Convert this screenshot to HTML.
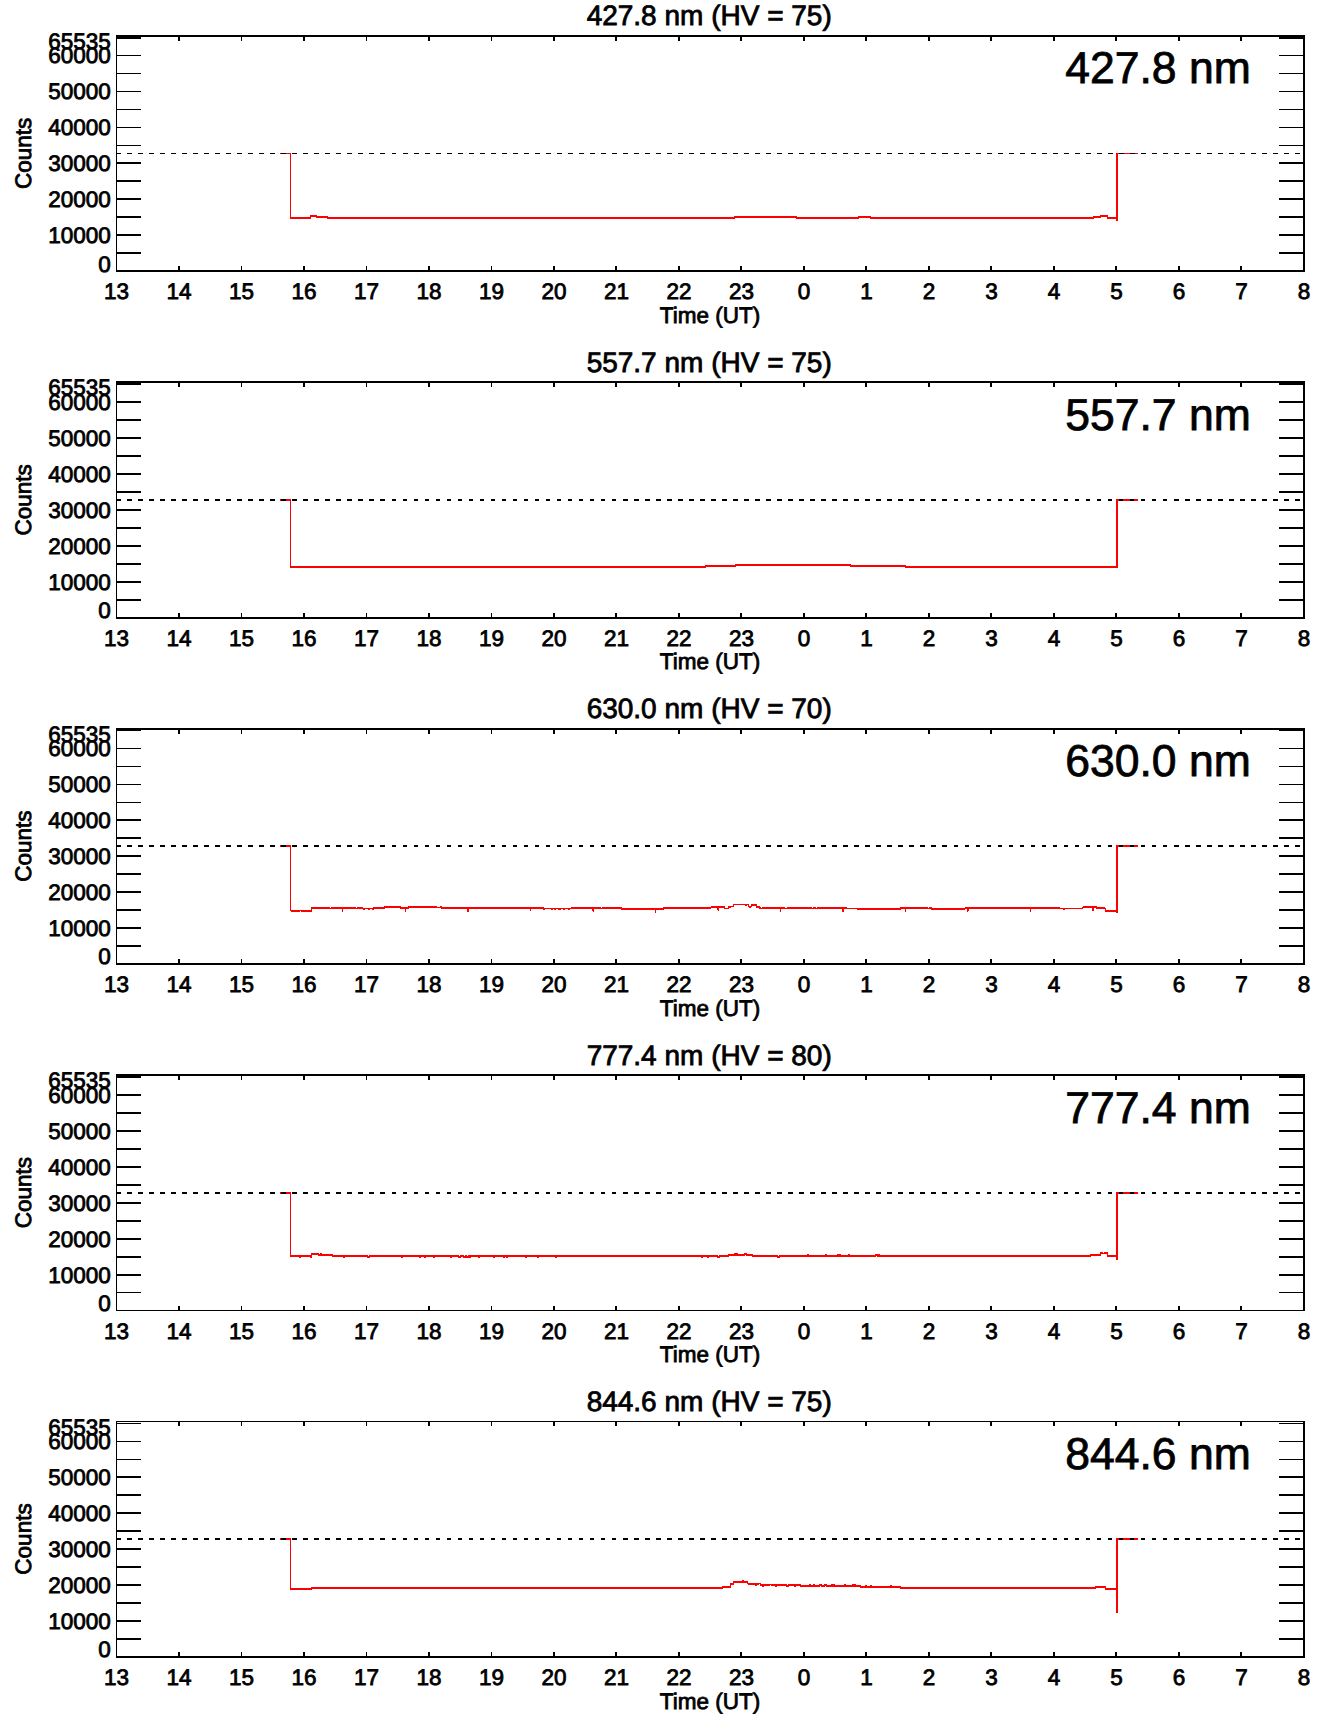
<!DOCTYPE html>
<html lang="en">
<head>
<meta charset="utf-8">
<title>Photometer counts</title>
<style>
html,body{margin:0;padding:0;background:#fff;}
body{width:1336px;height:1731px;overflow:hidden;}
svg{display:block;}
svg rect{shape-rendering:crispEdges;}
svg text{text-rendering:geometricPrecision;}
</style>
</head>
<body>
<svg width="1336" height="1731" viewBox="0 0 1336 1731">
<rect x="0" y="0" width="1336" height="1731" fill="#fff"/>
<g id="curves">
<path d="M280.0 153.5 L290.5 153.5 L290.5 218.0 L310.5 218.0 L310.5 216.0 L316.5 216.0 L316.5 217.0 L327.5 217.0 L327.5 218.0 L734.5 218.0 L734.5 217.0 L796.5 217.0 L796.5 218.0 L858.5 218.0 L858.5 217.0 L870.5 217.0 L870.5 218.0 L1093.5 218.0 L1093.5 217.0 L1100.5 217.0 L1100.5 216.0 L1107.5 216.0 L1107.5 218.0 L1116.9 218.0 L1116.9 221.0 L1116.9 153.5 L1137.5 153.5" fill="none" stroke="#ff0000" stroke-width="1.7" stroke-linejoin="miter" shape-rendering="crispEdges"/>
<path d="M280.0 500.0 L290.5 500.0 L290.5 567.0 L705.5 567.0 L705.5 566.0 L735.5 566.0 L735.5 565.0 L850.5 565.0 L850.5 566.0 L905.5 566.0 L905.5 567.0 L1116.9 567.0 L1116.9 500.0 L1137.5 500.0" fill="none" stroke="#ff0000" stroke-width="1.7" stroke-linejoin="miter" shape-rendering="crispEdges"/>
<path d="M280.0 846.0 L290.5 846.0 L290.5 910.5 L291.5 910.5 L291.5 910.8 L299.5 910.8 L299.5 910.5 L301.5 910.5 L301.5 910.8 L304.5 910.8 L304.5 910.5 L305.5 910.5 L305.5 910.8 L309.5 910.8 L309.5 910.5 L310.5 910.5 L310.5 910.8 L311.5 910.8 L311.5 908.2 L315.5 908.2 L315.5 907.9 L316.5 907.9 L316.5 908.2 L326.5 908.2 L326.5 908.4 L327.5 908.4 L327.5 907.9 L328.5 907.9 L328.5 908.2 L329.5 908.2 L329.5 908.4 L331.5 908.4 L331.5 908.2 L338.5 908.2 L338.5 908.4 L339.5 908.4 L339.5 908.2 L340.5 908.2 L340.5 908.4 L341.5 908.4 L341.5 908.2 L342.5 908.2 L342.5 911.7 L342.5 908.2 L344.5 908.2 L344.5 907.9 L345.5 907.9 L345.5 908.2 L348.5 908.2 L348.5 908.4 L349.5 908.4 L349.5 907.9 L350.5 907.9 L350.5 908.2 L355.5 908.2 L355.5 908.4 L357.5 908.4 L357.5 908.2 L360.5 908.2 L360.5 908.4 L361.5 908.4 L361.5 908.2 L362.5 908.2 L362.5 908.6 L363.5 908.6 L363.5 908.9 L364.5 908.9 L364.5 908.6 L365.5 908.6 L365.5 908.4 L366.5 908.4 L366.5 908.6 L368.5 908.6 L368.5 908.9 L369.5 908.9 L369.5 908.6 L372.5 908.6 L372.5 908.9 L373.5 908.9 L373.5 908.2 L376.5 908.2 L376.5 907.9 L378.5 907.9 L378.5 908.4 L379.5 908.4 L379.5 908.2 L381.5 908.2 L381.5 908.4 L382.5 908.4 L382.5 907.9 L383.5 907.9 L383.5 908.2 L384.5 908.2 L384.5 907.3 L385.5 907.3 L385.5 907.0 L386.5 907.0 L386.5 907.3 L387.5 907.3 L387.5 907.0 L388.5 907.0 L388.5 907.3 L396.5 907.3 L396.5 907.5 L397.5 907.5 L397.5 907.3 L400.5 907.3 L400.5 907.9 L401.5 907.9 L401.5 908.2 L405.5 908.2 L405.5 908.4 L405.5 908.4 L405.5 911.9 L405.5 908.4 L406.5 908.4 L406.5 907.9 L408.5 907.9 L408.5 907.3 L409.5 907.3 L409.5 907.5 L410.5 907.5 L410.5 907.0 L411.5 907.0 L411.5 907.3 L415.5 907.3 L415.5 907.5 L416.5 907.5 L416.5 907.3 L428.5 907.3 L428.5 907.0 L429.5 907.0 L429.5 907.3 L433.5 907.3 L433.5 907.5 L434.5 907.5 L434.5 907.3 L436.5 907.3 L436.5 907.5 L440.5 907.5 L440.5 907.3 L441.5 907.3 L441.5 908.2 L444.5 908.2 L444.5 908.4 L445.5 908.4 L445.5 908.2 L461.5 908.2 L461.5 907.9 L462.5 907.9 L462.5 908.2 L464.5 908.2 L464.5 908.4 L465.5 908.4 L465.5 908.2 L467.5 908.2 L467.5 911.7 L467.5 908.2 L468.5 908.2 L468.5 911.7 L468.5 908.2 L469.5 908.2 L469.5 908.4 L470.5 908.4 L470.5 908.2 L473.5 908.2 L473.5 908.4 L474.5 908.4 L474.5 908.2 L480.5 908.2 L480.5 908.4 L481.5 908.4 L481.5 908.2 L484.5 908.2 L484.5 908.4 L485.5 908.4 L485.5 908.2 L486.5 908.2 L486.5 908.4 L487.5 908.4 L487.5 908.2 L490.5 908.2 L490.5 907.9 L491.5 907.9 L491.5 908.2 L492.5 908.2 L492.5 908.4 L493.5 908.4 L493.5 908.2 L494.5 908.2 L494.5 907.9 L495.5 907.9 L495.5 908.2 L496.5 908.2 L496.5 907.9 L497.5 907.9 L497.5 908.4 L498.5 908.4 L498.5 907.9 L499.5 907.9 L499.5 908.2 L505.5 908.2 L505.5 908.4 L506.5 908.4 L506.5 908.2 L507.5 908.2 L507.5 908.4 L508.5 908.4 L508.5 908.2 L515.5 908.2 L515.5 907.9 L516.5 907.9 L516.5 908.2 L525.5 908.2 L525.5 907.9 L526.5 907.9 L526.5 908.2 L529.5 908.2 L529.5 908.4 L530.5 908.4 L530.5 907.9 L530.5 907.9 L530.5 911.4 L530.5 907.9 L531.5 907.9 L531.5 908.2 L534.5 908.2 L534.5 908.4 L535.5 908.4 L535.5 908.2 L540.5 908.2 L540.5 908.4 L541.5 908.4 L541.5 908.2 L543.5 908.2 L543.5 908.9 L544.5 908.9 L544.5 908.6 L551.5 908.6 L551.5 908.9 L552.5 908.9 L552.5 908.6 L554.5 908.6 L554.5 908.9 L555.5 908.9 L555.5 908.6 L558.5 908.6 L558.5 908.9 L560.5 908.9 L560.5 908.6 L563.5 908.6 L563.5 908.9 L564.5 908.9 L564.5 908.6 L565.5 908.6 L565.5 908.4 L566.5 908.4 L566.5 908.6 L567.5 908.6 L567.5 908.4 L568.5 908.4 L568.5 908.9 L569.5 908.9 L569.5 908.6 L571.5 908.6 L571.5 907.9 L572.5 907.9 L572.5 908.2 L581.5 908.2 L581.5 908.4 L582.5 908.4 L582.5 908.2 L584.5 908.2 L584.5 907.9 L585.5 907.9 L585.5 908.4 L586.5 908.4 L586.5 908.2 L589.5 908.2 L589.5 907.9 L591.5 907.9 L591.5 908.2 L592.5 908.2 L592.5 907.9 L592.5 907.9 L592.5 911.4 L592.5 907.9 L593.5 907.9 L593.5 908.2 L593.5 908.2 L593.5 911.7 L593.5 908.2 L600.5 908.2 L600.5 908.4 L602.5 908.4 L602.5 908.2 L603.5 908.2 L603.5 907.9 L604.5 907.9 L604.5 908.2 L617.5 908.2 L617.5 907.9 L618.5 907.9 L618.5 908.2 L619.5 908.2 L619.5 907.9 L620.5 907.9 L620.5 908.2 L621.5 908.2 L621.5 909.3 L622.5 909.3 L622.5 909.1 L627.5 909.1 L627.5 908.8 L628.5 908.8 L628.5 909.1 L638.5 909.1 L638.5 909.3 L639.5 909.3 L639.5 909.1 L641.5 909.1 L641.5 908.8 L642.5 908.8 L642.5 909.1 L655.5 909.1 L655.5 912.6 L655.5 909.1 L656.5 909.1 L656.5 909.3 L657.5 909.3 L657.5 909.1 L663.5 909.1 L663.5 908.2 L664.5 908.2 L664.5 908.4 L665.5 908.4 L665.5 908.2 L666.5 908.2 L666.5 908.4 L667.5 908.4 L667.5 908.2 L668.5 908.2 L668.5 907.9 L669.5 907.9 L669.5 908.4 L670.5 908.4 L670.5 907.9 L671.5 907.9 L671.5 908.2 L676.5 908.2 L676.5 907.9 L677.5 907.9 L677.5 908.2 L683.5 908.2 L683.5 907.9 L684.5 907.9 L684.5 908.2 L687.5 908.2 L687.5 907.9 L688.5 907.9 L688.5 908.2 L690.5 908.2 L690.5 907.7 L692.5 907.7 L692.5 907.9 L693.5 907.9 L693.5 907.7 L696.5 907.7 L696.5 907.9 L697.5 907.9 L697.5 907.7 L710.5 907.7 L710.5 907.4 L711.5 907.4 L711.5 906.8 L717.5 906.8 L717.5 910.3 L717.5 906.8 L718.5 906.8 L718.5 907.3 L718.5 907.3 L718.5 910.8 L718.5 907.3 L719.5 907.3 L719.5 907.0 L720.5 907.0 L720.5 907.3 L721.5 907.3 L721.5 907.0 L722.5 907.0 L722.5 907.3 L724.5 907.3 L724.5 908.6 L727.5 908.6 L727.5 908.4 L728.5 908.4 L728.5 906.6 L729.5 906.6 L729.5 906.9 L730.5 906.9 L730.5 906.6 L733.5 906.6 L733.5 904.6 L734.5 904.6 L734.5 904.4 L735.5 904.4 L735.5 904.6 L744.5 904.6 L744.5 904.4 L745.5 904.4 L745.5 904.9 L746.5 904.9 L746.5 904.6 L748.5 904.6 L748.5 906.6 L749.5 906.6 L749.5 906.9 L750.5 906.9 L750.5 906.6 L751.5 906.6 L751.5 905.3 L754.5 905.3 L754.5 905.5 L755.5 905.5 L755.5 905.3 L756.5 905.3 L756.5 907.3 L759.5 907.3 L759.5 908.2 L760.5 908.2 L760.5 908.4 L762.5 908.4 L762.5 907.9 L763.5 907.9 L763.5 908.2 L764.5 908.2 L764.5 908.4 L765.5 908.4 L765.5 908.2 L775.5 908.2 L775.5 908.4 L776.5 908.4 L776.5 908.2 L777.5 908.2 L777.5 908.4 L778.5 908.4 L778.5 908.2 L780.5 908.2 L780.5 911.7 L780.5 908.2 L781.5 908.2 L781.5 908.4 L782.5 908.4 L782.5 908.2 L784.5 908.2 L784.5 908.4 L787.5 908.4 L787.5 908.2 L791.5 908.2 L791.5 908.4 L792.5 908.4 L792.5 908.2 L794.5 908.2 L794.5 908.4 L795.5 908.4 L795.5 908.2 L796.5 908.2 L796.5 908.4 L797.5 908.4 L797.5 908.2 L798.5 908.2 L798.5 907.9 L799.5 907.9 L799.5 908.2 L811.5 908.2 L811.5 908.4 L813.5 908.4 L813.5 908.2 L815.5 908.2 L815.5 908.4 L817.5 908.4 L817.5 907.9 L818.5 907.9 L818.5 908.2 L820.5 908.2 L820.5 907.9 L821.5 907.9 L821.5 908.2 L822.5 908.2 L822.5 907.9 L823.5 907.9 L823.5 908.2 L829.5 908.2 L829.5 907.9 L830.5 907.9 L830.5 908.2 L837.5 908.2 L837.5 907.9 L839.5 907.9 L839.5 908.2 L841.5 908.2 L841.5 907.9 L842.5 907.9 L842.5 908.2 L842.5 908.2 L842.5 911.7 L842.5 908.2 L843.5 908.2 L843.5 911.7 L843.5 908.2 L846.5 908.2 L846.5 908.6 L850.5 908.6 L850.5 908.4 L851.5 908.4 L851.5 908.6 L854.5 908.6 L854.5 908.4 L855.5 908.4 L855.5 908.6 L856.5 908.6 L856.5 908.4 L857.5 908.4 L857.5 909.1 L860.5 909.1 L860.5 908.8 L861.5 908.8 L861.5 909.3 L862.5 909.3 L862.5 909.1 L864.5 909.1 L864.5 909.3 L865.5 909.3 L865.5 909.1 L868.5 909.1 L868.5 909.3 L869.5 909.3 L869.5 908.8 L870.5 908.8 L870.5 909.1 L875.5 909.1 L875.5 908.8 L876.5 908.8 L876.5 909.1 L878.5 909.1 L878.5 909.3 L879.5 909.3 L879.5 908.8 L880.5 908.8 L880.5 909.1 L885.5 909.1 L885.5 909.3 L886.5 909.3 L886.5 909.1 L887.5 909.1 L887.5 909.3 L888.5 909.3 L888.5 909.1 L889.5 909.1 L889.5 909.3 L890.5 909.3 L890.5 908.8 L891.5 908.8 L891.5 909.1 L900.5 909.1 L900.5 908.2 L902.5 908.2 L902.5 907.9 L905.5 907.9 L905.5 908.2 L905.5 908.2 L905.5 911.7 L905.5 908.2 L906.5 908.2 L906.5 907.9 L907.5 907.9 L907.5 908.2 L910.5 908.2 L910.5 908.4 L911.5 908.4 L911.5 908.2 L918.5 908.2 L918.5 907.9 L920.5 907.9 L920.5 908.4 L921.5 908.4 L921.5 907.9 L922.5 907.9 L922.5 908.2 L926.5 908.2 L926.5 907.9 L927.5 907.9 L927.5 908.4 L929.5 908.4 L929.5 908.2 L931.5 908.2 L931.5 909.3 L933.5 909.3 L933.5 909.1 L939.5 909.1 L939.5 909.3 L940.5 909.3 L940.5 909.1 L949.5 909.1 L949.5 908.8 L950.5 908.8 L950.5 909.1 L955.5 909.1 L955.5 908.8 L956.5 908.8 L956.5 909.1 L961.5 909.1 L961.5 909.3 L962.5 909.3 L962.5 909.1 L964.5 909.1 L964.5 908.4 L965.5 908.4 L965.5 908.2 L967.5 908.2 L967.5 911.7 L967.5 908.2 L968.5 908.2 L968.5 907.9 L968.5 907.9 L968.5 911.4 L968.5 907.9 L969.5 907.9 L969.5 908.2 L973.5 908.2 L973.5 908.4 L974.5 908.4 L974.5 907.9 L975.5 907.9 L975.5 908.2 L978.5 908.2 L978.5 907.9 L979.5 907.9 L979.5 908.2 L981.5 908.2 L981.5 908.4 L982.5 908.4 L982.5 908.2 L984.5 908.2 L984.5 907.9 L985.5 907.9 L985.5 908.2 L986.5 908.2 L986.5 907.9 L987.5 907.9 L987.5 908.2 L992.5 908.2 L992.5 908.4 L993.5 908.4 L993.5 908.2 L997.5 908.2 L997.5 908.4 L998.5 908.4 L998.5 908.2 L1002.5 908.2 L1002.5 908.4 L1003.5 908.4 L1003.5 908.2 L1005.5 908.2 L1005.5 908.4 L1006.5 908.4 L1006.5 907.9 L1007.5 907.9 L1007.5 908.2 L1009.5 908.2 L1009.5 907.9 L1010.5 907.9 L1010.5 908.2 L1013.5 908.2 L1013.5 907.9 L1014.5 907.9 L1014.5 908.2 L1017.5 908.2 L1017.5 907.9 L1018.5 907.9 L1018.5 908.4 L1019.5 908.4 L1019.5 908.2 L1026.5 908.2 L1026.5 908.4 L1027.5 908.4 L1027.5 908.2 L1029.5 908.2 L1029.5 907.9 L1030.5 907.9 L1030.5 908.2 L1030.5 908.2 L1030.5 911.7 L1030.5 908.2 L1032.5 908.2 L1032.5 908.4 L1033.5 908.4 L1033.5 908.2 L1040.5 908.2 L1040.5 907.9 L1041.5 907.9 L1041.5 908.2 L1043.5 908.2 L1043.5 907.9 L1044.5 907.9 L1044.5 908.2 L1046.5 908.2 L1046.5 907.9 L1047.5 907.9 L1047.5 908.2 L1049.5 908.2 L1049.5 908.4 L1050.5 908.4 L1050.5 908.2 L1052.5 908.2 L1052.5 908.4 L1053.5 908.4 L1053.5 908.2 L1056.5 908.2 L1056.5 908.4 L1057.5 908.4 L1057.5 908.2 L1058.5 908.2 L1058.5 907.9 L1059.5 907.9 L1059.5 908.4 L1060.5 908.4 L1060.5 908.6 L1061.5 908.6 L1061.5 908.4 L1062.5 908.4 L1062.5 908.6 L1063.5 908.6 L1063.5 908.9 L1064.5 908.9 L1064.5 908.6 L1082.5 908.6 L1082.5 907.5 L1083.5 907.5 L1083.5 907.0 L1084.5 907.0 L1084.5 907.3 L1085.5 907.3 L1085.5 907.0 L1086.5 907.0 L1086.5 907.5 L1087.5 907.5 L1087.5 907.3 L1088.5 907.3 L1088.5 907.5 L1089.5 907.5 L1089.5 907.3 L1092.5 907.3 L1092.5 910.8 L1092.5 907.3 L1093.5 907.3 L1093.5 910.8 L1093.5 907.3 L1096.5 907.3 L1096.5 908.2 L1098.5 908.2 L1098.5 907.9 L1099.5 907.9 L1099.5 908.2 L1101.5 908.2 L1101.5 907.9 L1102.5 907.9 L1102.5 908.2 L1104.5 908.2 L1104.5 908.4 L1105.5 908.4 L1105.5 911.2 L1107.5 911.2 L1107.5 910.9 L1108.5 910.9 L1108.5 911.2 L1114.5 911.2 L1114.5 910.9 L1115.5 910.9 L1115.5 911.4 L1116.9 911.4 L1116.9 913.4 L1116.9 846.0 L1137.5 846.0" fill="none" stroke="#ff0000" stroke-width="1.7" stroke-linejoin="miter" shape-rendering="crispEdges"/>
<path d="M280.0 1193.0 L290.5 1193.0 L290.5 1256.3 L298.5 1256.3 L298.5 1255.8 L299.5 1255.8 L299.5 1256.8 L300.5 1256.8 L300.5 1256.3 L310.5 1256.3 L310.5 1256.8 L311.5 1256.8 L311.5 1253.8 L318.5 1253.8 L318.5 1254.8 L320.5 1254.8 L320.5 1254.3 L321.5 1254.3 L321.5 1254.8 L325.5 1254.8 L325.5 1255.3 L326.5 1255.3 L326.5 1254.8 L329.5 1254.8 L329.5 1255.3 L330.5 1255.3 L330.5 1254.8 L331.5 1254.8 L331.5 1255.3 L332.5 1255.3 L332.5 1256.3 L343.5 1256.3 L343.5 1256.8 L344.5 1256.8 L344.5 1256.3 L360.5 1256.3 L360.5 1255.8 L361.5 1255.8 L361.5 1256.3 L367.5 1256.3 L367.5 1256.8 L369.5 1256.8 L369.5 1256.3 L370.5 1256.3 L370.5 1255.8 L371.5 1255.8 L371.5 1256.3 L372.5 1256.3 L372.5 1255.8 L373.5 1255.8 L373.5 1256.3 L376.5 1256.3 L376.5 1255.8 L377.5 1255.8 L377.5 1256.3 L378.5 1256.3 L378.5 1255.8 L379.5 1255.8 L379.5 1256.3 L381.5 1256.3 L381.5 1255.8 L382.5 1255.8 L382.5 1256.3 L385.5 1256.3 L385.5 1255.8 L387.5 1255.8 L387.5 1256.3 L390.5 1256.3 L390.5 1255.8 L392.5 1255.8 L392.5 1256.3 L394.5 1256.3 L394.5 1255.8 L395.5 1255.8 L395.5 1256.3 L396.5 1256.3 L396.5 1255.8 L397.5 1255.8 L397.5 1256.3 L399.5 1256.3 L399.5 1255.8 L400.5 1255.8 L400.5 1256.3 L401.5 1256.3 L401.5 1256.8 L402.5 1256.8 L402.5 1256.3 L407.5 1256.3 L407.5 1255.8 L408.5 1255.8 L408.5 1256.3 L418.5 1256.3 L418.5 1255.8 L419.5 1255.8 L419.5 1256.8 L420.5 1256.8 L420.5 1256.3 L424.5 1256.3 L424.5 1256.8 L425.5 1256.8 L425.5 1256.3 L427.5 1256.3 L427.5 1255.8 L428.5 1255.8 L428.5 1256.3 L431.5 1256.3 L431.5 1255.8 L432.5 1255.8 L432.5 1256.3 L433.5 1256.3 L433.5 1256.8 L434.5 1256.8 L434.5 1256.3 L437.5 1256.3 L437.5 1255.8 L438.5 1255.8 L438.5 1256.3 L439.5 1256.3 L439.5 1255.8 L440.5 1255.8 L440.5 1256.3 L449.5 1256.3 L449.5 1255.8 L450.5 1255.8 L450.5 1256.8 L451.5 1256.8 L451.5 1256.3 L452.5 1256.3 L452.5 1255.8 L453.5 1255.8 L453.5 1256.3 L455.5 1256.3 L455.5 1255.8 L457.5 1255.8 L457.5 1256.3 L458.5 1256.3 L458.5 1256.8 L460.5 1256.8 L460.5 1256.3 L463.5 1256.3 L463.5 1256.8 L465.5 1256.8 L465.5 1256.3 L466.5 1256.3 L466.5 1256.8 L468.5 1256.8 L468.5 1256.3 L469.5 1256.3 L469.5 1256.8 L470.5 1256.8 L470.5 1255.8 L471.5 1255.8 L471.5 1256.3 L475.5 1256.3 L475.5 1255.8 L476.5 1255.8 L476.5 1256.3 L478.5 1256.3 L478.5 1256.8 L479.5 1256.8 L479.5 1256.3 L486.5 1256.3 L486.5 1255.8 L487.5 1255.8 L487.5 1256.3 L493.5 1256.3 L493.5 1256.8 L494.5 1256.8 L494.5 1256.3 L503.5 1256.3 L503.5 1256.8 L504.5 1256.8 L504.5 1256.3 L506.5 1256.3 L506.5 1256.8 L507.5 1256.8 L507.5 1256.3 L515.5 1256.3 L515.5 1255.8 L516.5 1255.8 L516.5 1256.3 L519.5 1256.3 L519.5 1255.8 L520.5 1255.8 L520.5 1256.3 L525.5 1256.3 L525.5 1256.8 L526.5 1256.8 L526.5 1256.3 L528.5 1256.3 L528.5 1255.8 L529.5 1255.8 L529.5 1256.3 L531.5 1256.3 L531.5 1255.8 L532.5 1255.8 L532.5 1256.3 L537.5 1256.3 L537.5 1256.8 L538.5 1256.8 L538.5 1256.3 L550.5 1256.3 L550.5 1255.8 L552.5 1255.8 L552.5 1256.3 L555.5 1256.3 L555.5 1256.8 L556.5 1256.8 L556.5 1256.3 L696.5 1256.3 L696.5 1255.8 L697.5 1255.8 L697.5 1256.3 L701.5 1256.3 L701.5 1256.8 L702.5 1256.8 L702.5 1256.3 L707.5 1256.3 L707.5 1256.8 L708.5 1256.8 L708.5 1256.3 L712.5 1256.3 L712.5 1255.8 L713.5 1255.8 L713.5 1256.3 L717.5 1256.3 L717.5 1256.8 L719.5 1256.8 L719.5 1256.3 L725.5 1256.3 L725.5 1255.8 L726.5 1255.8 L726.5 1256.3 L728.5 1256.3 L728.5 1254.8 L734.5 1254.8 L734.5 1254.3 L735.5 1254.3 L735.5 1254.8 L736.5 1254.8 L736.5 1254.3 L737.5 1254.3 L737.5 1254.8 L742.5 1254.8 L742.5 1255.3 L743.5 1255.3 L743.5 1254.8 L744.5 1254.8 L744.5 1254.3 L746.5 1254.3 L746.5 1255.3 L747.5 1255.3 L747.5 1254.8 L748.5 1254.8 L748.5 1255.3 L749.5 1255.3 L749.5 1254.8 L752.5 1254.8 L752.5 1256.3 L760.5 1256.3 L760.5 1255.8 L761.5 1255.8 L761.5 1256.3 L773.5 1256.3 L773.5 1255.8 L774.5 1255.8 L774.5 1256.3 L776.5 1256.3 L776.5 1255.8 L777.5 1255.8 L777.5 1256.8 L779.5 1256.8 L779.5 1256.3 L781.5 1256.3 L781.5 1255.8 L782.5 1255.8 L782.5 1256.3 L785.5 1256.3 L785.5 1255.8 L786.5 1255.8 L786.5 1256.3 L800.5 1256.3 L800.5 1255.8 L807.5 1255.8 L807.5 1255.3 L808.5 1255.3 L808.5 1255.8 L817.5 1255.8 L817.5 1256.3 L818.5 1256.3 L818.5 1255.8 L825.5 1255.8 L825.5 1255.3 L826.5 1255.3 L826.5 1255.8 L834.5 1255.8 L834.5 1256.3 L835.5 1256.3 L835.5 1255.8 L837.5 1255.8 L837.5 1255.3 L838.5 1255.3 L838.5 1255.8 L839.5 1255.8 L839.5 1255.3 L840.5 1255.3 L840.5 1255.8 L842.5 1255.8 L842.5 1256.3 L843.5 1256.3 L843.5 1255.8 L848.5 1255.8 L848.5 1255.3 L849.5 1255.3 L849.5 1255.8 L855.5 1255.8 L855.5 1256.3 L856.5 1256.3 L856.5 1255.8 L857.5 1255.8 L857.5 1256.3 L858.5 1256.3 L858.5 1255.8 L859.5 1255.8 L859.5 1256.3 L860.5 1256.3 L860.5 1255.8 L866.5 1255.8 L866.5 1256.3 L867.5 1256.3 L867.5 1255.8 L870.5 1255.8 L870.5 1256.3 L871.5 1256.3 L871.5 1255.8 L875.5 1255.8 L875.5 1255.3 L877.5 1255.3 L877.5 1255.8 L878.5 1255.8 L878.5 1255.3 L879.5 1255.3 L879.5 1255.8 L900.5 1255.8 L900.5 1256.3 L1089.5 1256.3 L1089.5 1255.9 L1090.5 1255.9 L1090.5 1254.8 L1091.5 1254.8 L1091.5 1254.4 L1092.5 1254.4 L1092.5 1254.8 L1093.5 1254.8 L1093.5 1255.2 L1094.5 1255.2 L1094.5 1254.8 L1099.5 1254.8 L1099.5 1255.2 L1100.5 1255.2 L1100.5 1253.1 L1102.5 1253.1 L1102.5 1253.5 L1104.5 1253.5 L1104.5 1253.1 L1107.5 1253.1 L1107.5 1256.3 L1116.9 1256.3 L1116.9 1260.3 L1116.9 1193.0 L1137.5 1193.0" fill="none" stroke="#ff0000" stroke-width="1.7" stroke-linejoin="miter" shape-rendering="crispEdges"/>
<path d="M280.0 1539.0 L290.5 1539.0 L290.5 1589.0 L311.5 1589.0 L311.5 1587.7 L722.5 1587.7 L722.5 1586.7 L723.5 1586.7 L723.5 1587.4 L724.5 1587.4 L724.5 1586.7 L730.5 1586.7 L730.5 1583.7 L733.5 1583.7 L733.5 1581.7 L742.5 1581.7 L742.5 1581.0 L743.5 1581.0 L743.5 1581.7 L747.5 1581.7 L747.5 1583.5 L748.5 1583.5 L748.5 1584.2 L754.5 1584.2 L754.5 1583.5 L755.5 1583.5 L755.5 1584.9 L756.5 1584.9 L756.5 1584.2 L758.5 1584.2 L758.5 1583.5 L760.5 1583.5 L760.5 1585.2 L762.5 1585.2 L762.5 1585.9 L763.5 1585.9 L763.5 1585.2 L766.5 1585.2 L766.5 1584.5 L767.5 1584.5 L767.5 1585.2 L769.5 1585.2 L769.5 1584.5 L771.5 1584.5 L771.5 1585.2 L775.5 1585.2 L775.5 1585.9 L776.5 1585.9 L776.5 1584.5 L777.5 1584.5 L777.5 1585.2 L780.5 1585.2 L780.5 1584.5 L781.5 1584.5 L781.5 1585.2 L782.5 1585.2 L782.5 1584.5 L783.5 1584.5 L783.5 1585.2 L785.5 1585.2 L785.5 1584.5 L786.5 1584.5 L786.5 1585.9 L788.5 1585.9 L788.5 1585.2 L789.5 1585.2 L789.5 1584.5 L790.5 1584.5 L790.5 1585.2 L793.5 1585.2 L793.5 1584.5 L794.5 1584.5 L794.5 1585.9 L795.5 1585.9 L795.5 1585.2 L800.5 1585.2 L800.5 1585.7 L803.5 1585.7 L803.5 1586.1 L804.5 1586.1 L804.5 1585.7 L805.5 1585.7 L805.5 1586.1 L806.5 1586.1 L806.5 1585.7 L809.5 1585.7 L809.5 1585.3 L810.5 1585.3 L810.5 1586.1 L811.5 1586.1 L811.5 1585.7 L813.5 1585.7 L813.5 1585.3 L814.5 1585.3 L814.5 1585.7 L819.5 1585.7 L819.5 1585.3 L821.5 1585.3 L821.5 1585.7 L824.5 1585.7 L824.5 1585.3 L826.5 1585.3 L826.5 1585.7 L831.5 1585.7 L831.5 1585.3 L832.5 1585.3 L832.5 1585.7 L833.5 1585.7 L833.5 1585.3 L834.5 1585.3 L834.5 1586.1 L835.5 1586.1 L835.5 1585.7 L840.5 1585.7 L840.5 1586.1 L841.5 1586.1 L841.5 1585.7 L844.5 1585.7 L844.5 1585.3 L845.5 1585.3 L845.5 1586.1 L846.5 1586.1 L846.5 1585.7 L848.5 1585.7 L848.5 1586.1 L849.5 1586.1 L849.5 1585.7 L852.5 1585.7 L852.5 1585.3 L853.5 1585.3 L853.5 1585.7 L854.5 1585.7 L854.5 1585.3 L855.5 1585.3 L855.5 1585.7 L856.5 1585.7 L856.5 1586.1 L857.5 1586.1 L857.5 1585.7 L860.5 1585.7 L860.5 1586.7 L863.5 1586.7 L863.5 1587.1 L865.5 1587.1 L865.5 1586.3 L866.5 1586.3 L866.5 1586.7 L870.5 1586.7 L870.5 1586.3 L871.5 1586.3 L871.5 1586.7 L886.5 1586.7 L886.5 1587.1 L887.5 1587.1 L887.5 1586.7 L890.5 1586.7 L890.5 1586.3 L891.5 1586.3 L891.5 1586.7 L895.5 1586.7 L895.5 1587.1 L896.5 1587.1 L896.5 1586.7 L898.5 1586.7 L898.5 1587.1 L899.5 1587.1 L899.5 1586.7 L900.5 1586.7 L900.5 1587.7 L1095.5 1587.7 L1095.5 1586.7 L1105.5 1586.7 L1105.5 1588.7 L1116.9 1588.7 L1116.9 1612.7 L1116.9 1539.0 L1137.5 1539.0" fill="none" stroke="#ff0000" stroke-width="1.7" stroke-linejoin="miter" shape-rendering="crispEdges"/>
</g>
<g id="panel1">
<rect x="116" y="35" width="1189" height="2" fill="#000"/>
<rect x="116" y="270" width="1189" height="2" fill="#000"/>
<rect x="116" y="35" width="1" height="237" fill="#000"/>
<rect x="1303" y="35" width="2" height="237" fill="#000"/>
<rect x="117" y="35" width="24" height="4" fill="#000"/>
<rect x="1279" y="35" width="24" height="4" fill="#000"/>
<rect x="117" y="252" width="24" height="2" fill="#000"/>
<rect x="1279" y="252" width="24" height="2" fill="#000"/>
<rect x="117" y="234" width="24" height="2" fill="#000"/>
<rect x="1279" y="234" width="24" height="2" fill="#000"/>
<rect x="117" y="216" width="24" height="2" fill="#000"/>
<rect x="1279" y="216" width="24" height="2" fill="#000"/>
<rect x="117" y="198" width="24" height="2" fill="#000"/>
<rect x="1279" y="198" width="24" height="2" fill="#000"/>
<rect x="117" y="180" width="24" height="2" fill="#000"/>
<rect x="1279" y="180" width="24" height="2" fill="#000"/>
<rect x="117" y="162" width="24" height="2" fill="#000"/>
<rect x="1279" y="162" width="24" height="2" fill="#000"/>
<rect x="117" y="145" width="24" height="1" fill="#000"/>
<rect x="1279" y="145" width="24" height="1" fill="#000"/>
<rect x="117" y="127" width="24" height="1" fill="#000"/>
<rect x="1279" y="127" width="24" height="1" fill="#000"/>
<rect x="117" y="109" width="24" height="1" fill="#000"/>
<rect x="1279" y="109" width="24" height="1" fill="#000"/>
<rect x="117" y="91" width="24" height="1" fill="#000"/>
<rect x="1279" y="91" width="24" height="1" fill="#000"/>
<rect x="117" y="73" width="24" height="1" fill="#000"/>
<rect x="1279" y="73" width="24" height="1" fill="#000"/>
<rect x="117" y="55" width="24" height="1" fill="#000"/>
<rect x="1279" y="55" width="24" height="1" fill="#000"/>
<rect x="178" y="266" width="2" height="4" fill="#000"/>
<rect x="178" y="37" width="2" height="4" fill="#000"/>
<rect x="241" y="266" width="1" height="4" fill="#000"/>
<rect x="241" y="37" width="1" height="4" fill="#000"/>
<rect x="303" y="266" width="2" height="4" fill="#000"/>
<rect x="303" y="37" width="2" height="4" fill="#000"/>
<rect x="366" y="266" width="1" height="4" fill="#000"/>
<rect x="366" y="37" width="1" height="4" fill="#000"/>
<rect x="428" y="266" width="2" height="4" fill="#000"/>
<rect x="428" y="37" width="2" height="4" fill="#000"/>
<rect x="491" y="266" width="1" height="4" fill="#000"/>
<rect x="491" y="37" width="1" height="4" fill="#000"/>
<rect x="553" y="266" width="2" height="4" fill="#000"/>
<rect x="553" y="37" width="2" height="4" fill="#000"/>
<rect x="615" y="266" width="2" height="4" fill="#000"/>
<rect x="615" y="37" width="2" height="4" fill="#000"/>
<rect x="678" y="266" width="2" height="4" fill="#000"/>
<rect x="678" y="37" width="2" height="4" fill="#000"/>
<rect x="740" y="266" width="2" height="4" fill="#000"/>
<rect x="740" y="37" width="2" height="4" fill="#000"/>
<rect x="803" y="266" width="2" height="4" fill="#000"/>
<rect x="803" y="37" width="2" height="4" fill="#000"/>
<rect x="865" y="266" width="2" height="4" fill="#000"/>
<rect x="865" y="37" width="2" height="4" fill="#000"/>
<rect x="928" y="266" width="2" height="4" fill="#000"/>
<rect x="928" y="37" width="2" height="4" fill="#000"/>
<rect x="990" y="266" width="2" height="4" fill="#000"/>
<rect x="990" y="37" width="2" height="4" fill="#000"/>
<rect x="1053" y="266" width="2" height="4" fill="#000"/>
<rect x="1053" y="37" width="2" height="4" fill="#000"/>
<rect x="1115" y="266" width="2" height="4" fill="#000"/>
<rect x="1115" y="37" width="2" height="4" fill="#000"/>
<rect x="1178" y="266" width="2" height="4" fill="#000"/>
<rect x="1178" y="37" width="2" height="4" fill="#000"/>
<rect x="1240" y="266" width="2" height="4" fill="#000"/>
<rect x="1240" y="37" width="2" height="4" fill="#000"/>
<rect x="116" y="153" width="5" height="1" fill="#000"/>
<rect x="127" y="153" width="5" height="1" fill="#000"/>
<rect x="138" y="153" width="5" height="1" fill="#000"/>
<rect x="149" y="153" width="5" height="1" fill="#000"/>
<rect x="160" y="153" width="5" height="1" fill="#000"/>
<rect x="171" y="153" width="5" height="1" fill="#000"/>
<rect x="182" y="153" width="5" height="1" fill="#000"/>
<rect x="193" y="153" width="5" height="1" fill="#000"/>
<rect x="204" y="153" width="5" height="1" fill="#000"/>
<rect x="215" y="153" width="5" height="1" fill="#000"/>
<rect x="226" y="153" width="5" height="1" fill="#000"/>
<rect x="237" y="153" width="5" height="1" fill="#000"/>
<rect x="248" y="153" width="5" height="1" fill="#000"/>
<rect x="259" y="153" width="5" height="1" fill="#000"/>
<rect x="270" y="153" width="5" height="1" fill="#000"/>
<rect x="281" y="153" width="5" height="1" fill="#000"/>
<rect x="292" y="153" width="5" height="1" fill="#000"/>
<rect x="303" y="153" width="5" height="1" fill="#000"/>
<rect x="314" y="153" width="5" height="1" fill="#000"/>
<rect x="325" y="153" width="5" height="1" fill="#000"/>
<rect x="336" y="153" width="5" height="1" fill="#000"/>
<rect x="347" y="153" width="5" height="1" fill="#000"/>
<rect x="358" y="153" width="5" height="1" fill="#000"/>
<rect x="369" y="153" width="5" height="1" fill="#000"/>
<rect x="380" y="153" width="5" height="1" fill="#000"/>
<rect x="392" y="153" width="4" height="1" fill="#000"/>
<rect x="403" y="153" width="5" height="1" fill="#000"/>
<rect x="414" y="153" width="5" height="1" fill="#000"/>
<rect x="425" y="153" width="5" height="1" fill="#000"/>
<rect x="436" y="153" width="5" height="1" fill="#000"/>
<rect x="447" y="153" width="5" height="1" fill="#000"/>
<rect x="458" y="153" width="5" height="1" fill="#000"/>
<rect x="469" y="153" width="5" height="1" fill="#000"/>
<rect x="480" y="153" width="5" height="1" fill="#000"/>
<rect x="491" y="153" width="5" height="1" fill="#000"/>
<rect x="502" y="153" width="5" height="1" fill="#000"/>
<rect x="513" y="153" width="5" height="1" fill="#000"/>
<rect x="524" y="153" width="5" height="1" fill="#000"/>
<rect x="535" y="153" width="5" height="1" fill="#000"/>
<rect x="546" y="153" width="5" height="1" fill="#000"/>
<rect x="557" y="153" width="5" height="1" fill="#000"/>
<rect x="568" y="153" width="5" height="1" fill="#000"/>
<rect x="579" y="153" width="5" height="1" fill="#000"/>
<rect x="590" y="153" width="5" height="1" fill="#000"/>
<rect x="601" y="153" width="5" height="1" fill="#000"/>
<rect x="612" y="153" width="5" height="1" fill="#000"/>
<rect x="623" y="153" width="5" height="1" fill="#000"/>
<rect x="634" y="153" width="5" height="1" fill="#000"/>
<rect x="645" y="153" width="5" height="1" fill="#000"/>
<rect x="656" y="153" width="5" height="1" fill="#000"/>
<rect x="667" y="153" width="5" height="1" fill="#000"/>
<rect x="678" y="153" width="5" height="1" fill="#000"/>
<rect x="689" y="153" width="5" height="1" fill="#000"/>
<rect x="700" y="153" width="5" height="1" fill="#000"/>
<rect x="711" y="153" width="5" height="1" fill="#000"/>
<rect x="722" y="153" width="5" height="1" fill="#000"/>
<rect x="733" y="153" width="5" height="1" fill="#000"/>
<rect x="744" y="153" width="5" height="1" fill="#000"/>
<rect x="755" y="153" width="5" height="1" fill="#000"/>
<rect x="766" y="153" width="5" height="1" fill="#000"/>
<rect x="777" y="153" width="5" height="1" fill="#000"/>
<rect x="788" y="153" width="5" height="1" fill="#000"/>
<rect x="799" y="153" width="5" height="1" fill="#000"/>
<rect x="810" y="153" width="5" height="1" fill="#000"/>
<rect x="821" y="153" width="5" height="1" fill="#000"/>
<rect x="832" y="153" width="5" height="1" fill="#000"/>
<rect x="843" y="153" width="5" height="1" fill="#000"/>
<rect x="854" y="153" width="5" height="1" fill="#000"/>
<rect x="865" y="153" width="5" height="1" fill="#000"/>
<rect x="876" y="153" width="5" height="1" fill="#000"/>
<rect x="887" y="153" width="5" height="1" fill="#000"/>
<rect x="898" y="153" width="5" height="1" fill="#000"/>
<rect x="909" y="153" width="5" height="1" fill="#000"/>
<rect x="920" y="153" width="5" height="1" fill="#000"/>
<rect x="931" y="153" width="5" height="1" fill="#000"/>
<rect x="942" y="153" width="6" height="1" fill="#000"/>
<rect x="954" y="153" width="5" height="1" fill="#000"/>
<rect x="965" y="153" width="5" height="1" fill="#000"/>
<rect x="976" y="153" width="5" height="1" fill="#000"/>
<rect x="987" y="153" width="5" height="1" fill="#000"/>
<rect x="998" y="153" width="5" height="1" fill="#000"/>
<rect x="1009" y="153" width="5" height="1" fill="#000"/>
<rect x="1020" y="153" width="5" height="1" fill="#000"/>
<rect x="1031" y="153" width="5" height="1" fill="#000"/>
<rect x="1042" y="153" width="5" height="1" fill="#000"/>
<rect x="1053" y="153" width="5" height="1" fill="#000"/>
<rect x="1064" y="153" width="5" height="1" fill="#000"/>
<rect x="1075" y="153" width="5" height="1" fill="#000"/>
<rect x="1086" y="153" width="5" height="1" fill="#000"/>
<rect x="1097" y="153" width="5" height="1" fill="#000"/>
<rect x="1108" y="153" width="5" height="1" fill="#000"/>
<rect x="1119" y="153" width="5" height="1" fill="#000"/>
<rect x="1130" y="153" width="5" height="1" fill="#000"/>
<rect x="1141" y="153" width="5" height="1" fill="#000"/>
<rect x="1152" y="153" width="5" height="1" fill="#000"/>
<rect x="1163" y="153" width="5" height="1" fill="#000"/>
<rect x="1174" y="153" width="5" height="1" fill="#000"/>
<rect x="1185" y="153" width="5" height="1" fill="#000"/>
<rect x="1196" y="153" width="5" height="1" fill="#000"/>
<rect x="1207" y="153" width="5" height="1" fill="#000"/>
<rect x="1218" y="153" width="5" height="1" fill="#000"/>
<rect x="1229" y="153" width="5" height="1" fill="#000"/>
<rect x="1240" y="153" width="5" height="1" fill="#000"/>
<rect x="1251" y="153" width="5" height="1" fill="#000"/>
<rect x="1262" y="153" width="5" height="1" fill="#000"/>
<rect x="1273" y="153" width="5" height="1" fill="#000"/>
<rect x="1284" y="153" width="5" height="1" fill="#000"/>
<rect x="1295" y="153" width="5" height="1" fill="#000"/>
</g>
<g id="panel2">
<rect x="116" y="381" width="1189" height="2" fill="#000"/>
<rect x="116" y="617" width="1189" height="2" fill="#000"/>
<rect x="116" y="381" width="1" height="238" fill="#000"/>
<rect x="1303" y="381" width="2" height="238" fill="#000"/>
<rect x="117" y="381" width="24" height="4" fill="#000"/>
<rect x="1279" y="381" width="24" height="4" fill="#000"/>
<rect x="117" y="599" width="24" height="2" fill="#000"/>
<rect x="1279" y="599" width="24" height="2" fill="#000"/>
<rect x="117" y="581" width="24" height="2" fill="#000"/>
<rect x="1279" y="581" width="24" height="2" fill="#000"/>
<rect x="117" y="563" width="24" height="2" fill="#000"/>
<rect x="1279" y="563" width="24" height="2" fill="#000"/>
<rect x="117" y="545" width="24" height="2" fill="#000"/>
<rect x="1279" y="545" width="24" height="2" fill="#000"/>
<rect x="117" y="527" width="24" height="2" fill="#000"/>
<rect x="1279" y="527" width="24" height="2" fill="#000"/>
<rect x="117" y="509" width="24" height="2" fill="#000"/>
<rect x="1279" y="509" width="24" height="2" fill="#000"/>
<rect x="117" y="491" width="24" height="2" fill="#000"/>
<rect x="1279" y="491" width="24" height="2" fill="#000"/>
<rect x="117" y="473" width="24" height="2" fill="#000"/>
<rect x="1279" y="473" width="24" height="2" fill="#000"/>
<rect x="117" y="455" width="24" height="2" fill="#000"/>
<rect x="1279" y="455" width="24" height="2" fill="#000"/>
<rect x="117" y="437" width="24" height="2" fill="#000"/>
<rect x="1279" y="437" width="24" height="2" fill="#000"/>
<rect x="117" y="419" width="24" height="2" fill="#000"/>
<rect x="1279" y="419" width="24" height="2" fill="#000"/>
<rect x="117" y="401" width="24" height="2" fill="#000"/>
<rect x="1279" y="401" width="24" height="2" fill="#000"/>
<rect x="178" y="613" width="2" height="4" fill="#000"/>
<rect x="178" y="383" width="2" height="4" fill="#000"/>
<rect x="241" y="613" width="1" height="4" fill="#000"/>
<rect x="241" y="383" width="1" height="4" fill="#000"/>
<rect x="303" y="613" width="2" height="4" fill="#000"/>
<rect x="303" y="383" width="2" height="4" fill="#000"/>
<rect x="366" y="613" width="1" height="4" fill="#000"/>
<rect x="366" y="383" width="1" height="4" fill="#000"/>
<rect x="428" y="613" width="2" height="4" fill="#000"/>
<rect x="428" y="383" width="2" height="4" fill="#000"/>
<rect x="491" y="613" width="1" height="4" fill="#000"/>
<rect x="491" y="383" width="1" height="4" fill="#000"/>
<rect x="553" y="613" width="2" height="4" fill="#000"/>
<rect x="553" y="383" width="2" height="4" fill="#000"/>
<rect x="615" y="613" width="2" height="4" fill="#000"/>
<rect x="615" y="383" width="2" height="4" fill="#000"/>
<rect x="678" y="613" width="2" height="4" fill="#000"/>
<rect x="678" y="383" width="2" height="4" fill="#000"/>
<rect x="740" y="613" width="2" height="4" fill="#000"/>
<rect x="740" y="383" width="2" height="4" fill="#000"/>
<rect x="803" y="613" width="2" height="4" fill="#000"/>
<rect x="803" y="383" width="2" height="4" fill="#000"/>
<rect x="865" y="613" width="2" height="4" fill="#000"/>
<rect x="865" y="383" width="2" height="4" fill="#000"/>
<rect x="928" y="613" width="2" height="4" fill="#000"/>
<rect x="928" y="383" width="2" height="4" fill="#000"/>
<rect x="990" y="613" width="2" height="4" fill="#000"/>
<rect x="990" y="383" width="2" height="4" fill="#000"/>
<rect x="1053" y="613" width="2" height="4" fill="#000"/>
<rect x="1053" y="383" width="2" height="4" fill="#000"/>
<rect x="1115" y="613" width="2" height="4" fill="#000"/>
<rect x="1115" y="383" width="2" height="4" fill="#000"/>
<rect x="1178" y="613" width="2" height="4" fill="#000"/>
<rect x="1178" y="383" width="2" height="4" fill="#000"/>
<rect x="1240" y="613" width="2" height="4" fill="#000"/>
<rect x="1240" y="383" width="2" height="4" fill="#000"/>
<rect x="116" y="499" width="5" height="2" fill="#000"/>
<rect x="127" y="499" width="5" height="2" fill="#000"/>
<rect x="138" y="499" width="5" height="2" fill="#000"/>
<rect x="149" y="499" width="5" height="2" fill="#000"/>
<rect x="160" y="499" width="5" height="2" fill="#000"/>
<rect x="171" y="499" width="5" height="2" fill="#000"/>
<rect x="182" y="499" width="5" height="2" fill="#000"/>
<rect x="193" y="499" width="5" height="2" fill="#000"/>
<rect x="204" y="499" width="5" height="2" fill="#000"/>
<rect x="215" y="499" width="5" height="2" fill="#000"/>
<rect x="226" y="499" width="5" height="2" fill="#000"/>
<rect x="237" y="499" width="5" height="2" fill="#000"/>
<rect x="248" y="499" width="5" height="2" fill="#000"/>
<rect x="259" y="499" width="5" height="2" fill="#000"/>
<rect x="270" y="499" width="5" height="2" fill="#000"/>
<rect x="281" y="499" width="5" height="2" fill="#000"/>
<rect x="292" y="499" width="5" height="2" fill="#000"/>
<rect x="303" y="499" width="5" height="2" fill="#000"/>
<rect x="314" y="499" width="5" height="2" fill="#000"/>
<rect x="325" y="499" width="5" height="2" fill="#000"/>
<rect x="336" y="499" width="5" height="2" fill="#000"/>
<rect x="347" y="499" width="5" height="2" fill="#000"/>
<rect x="358" y="499" width="5" height="2" fill="#000"/>
<rect x="369" y="499" width="5" height="2" fill="#000"/>
<rect x="380" y="499" width="5" height="2" fill="#000"/>
<rect x="392" y="499" width="4" height="2" fill="#000"/>
<rect x="403" y="499" width="4" height="2" fill="#000"/>
<rect x="414" y="499" width="4" height="2" fill="#000"/>
<rect x="425" y="499" width="4" height="2" fill="#000"/>
<rect x="436" y="499" width="4" height="2" fill="#000"/>
<rect x="447" y="499" width="4" height="2" fill="#000"/>
<rect x="458" y="499" width="4" height="2" fill="#000"/>
<rect x="469" y="499" width="4" height="2" fill="#000"/>
<rect x="480" y="499" width="4" height="2" fill="#000"/>
<rect x="491" y="499" width="4" height="2" fill="#000"/>
<rect x="502" y="499" width="4" height="2" fill="#000"/>
<rect x="513" y="499" width="4" height="2" fill="#000"/>
<rect x="524" y="499" width="4" height="2" fill="#000"/>
<rect x="535" y="499" width="4" height="2" fill="#000"/>
<rect x="546" y="499" width="4" height="2" fill="#000"/>
<rect x="557" y="499" width="4" height="2" fill="#000"/>
<rect x="568" y="499" width="4" height="2" fill="#000"/>
<rect x="579" y="499" width="4" height="2" fill="#000"/>
<rect x="590" y="499" width="4" height="2" fill="#000"/>
<rect x="601" y="499" width="4" height="2" fill="#000"/>
<rect x="612" y="499" width="4" height="2" fill="#000"/>
<rect x="623" y="499" width="5" height="2" fill="#000"/>
<rect x="634" y="499" width="5" height="2" fill="#000"/>
<rect x="645" y="499" width="5" height="2" fill="#000"/>
<rect x="656" y="499" width="5" height="2" fill="#000"/>
<rect x="667" y="499" width="5" height="2" fill="#000"/>
<rect x="678" y="499" width="5" height="2" fill="#000"/>
<rect x="689" y="499" width="5" height="2" fill="#000"/>
<rect x="700" y="499" width="5" height="2" fill="#000"/>
<rect x="711" y="499" width="5" height="2" fill="#000"/>
<rect x="722" y="499" width="5" height="2" fill="#000"/>
<rect x="733" y="499" width="5" height="2" fill="#000"/>
<rect x="744" y="499" width="5" height="2" fill="#000"/>
<rect x="755" y="499" width="5" height="2" fill="#000"/>
<rect x="766" y="499" width="5" height="2" fill="#000"/>
<rect x="777" y="499" width="5" height="2" fill="#000"/>
<rect x="788" y="499" width="5" height="2" fill="#000"/>
<rect x="799" y="499" width="5" height="2" fill="#000"/>
<rect x="810" y="499" width="5" height="2" fill="#000"/>
<rect x="821" y="499" width="5" height="2" fill="#000"/>
<rect x="832" y="499" width="5" height="2" fill="#000"/>
<rect x="843" y="499" width="5" height="2" fill="#000"/>
<rect x="854" y="499" width="5" height="2" fill="#000"/>
<rect x="865" y="499" width="5" height="2" fill="#000"/>
<rect x="876" y="499" width="5" height="2" fill="#000"/>
<rect x="887" y="499" width="5" height="2" fill="#000"/>
<rect x="898" y="499" width="5" height="2" fill="#000"/>
<rect x="909" y="499" width="5" height="2" fill="#000"/>
<rect x="920" y="499" width="5" height="2" fill="#000"/>
<rect x="931" y="499" width="5" height="2" fill="#000"/>
<rect x="942" y="499" width="5" height="2" fill="#000"/>
<rect x="954" y="499" width="4" height="2" fill="#000"/>
<rect x="965" y="499" width="4" height="2" fill="#000"/>
<rect x="976" y="499" width="4" height="2" fill="#000"/>
<rect x="987" y="499" width="4" height="2" fill="#000"/>
<rect x="998" y="499" width="4" height="2" fill="#000"/>
<rect x="1009" y="499" width="4" height="2" fill="#000"/>
<rect x="1020" y="499" width="4" height="2" fill="#000"/>
<rect x="1031" y="499" width="4" height="2" fill="#000"/>
<rect x="1042" y="499" width="4" height="2" fill="#000"/>
<rect x="1053" y="499" width="4" height="2" fill="#000"/>
<rect x="1064" y="499" width="4" height="2" fill="#000"/>
<rect x="1075" y="499" width="4" height="2" fill="#000"/>
<rect x="1086" y="499" width="4" height="2" fill="#000"/>
<rect x="1097" y="499" width="4" height="2" fill="#000"/>
<rect x="1108" y="499" width="4" height="2" fill="#000"/>
<rect x="1119" y="499" width="4" height="2" fill="#000"/>
<rect x="1130" y="499" width="4" height="2" fill="#000"/>
<rect x="1141" y="499" width="4" height="2" fill="#000"/>
<rect x="1152" y="499" width="4" height="2" fill="#000"/>
<rect x="1163" y="499" width="4" height="2" fill="#000"/>
<rect x="1174" y="499" width="5" height="2" fill="#000"/>
<rect x="1185" y="499" width="5" height="2" fill="#000"/>
<rect x="1196" y="499" width="5" height="2" fill="#000"/>
<rect x="1207" y="499" width="5" height="2" fill="#000"/>
<rect x="1218" y="499" width="5" height="2" fill="#000"/>
<rect x="1229" y="499" width="5" height="2" fill="#000"/>
<rect x="1240" y="499" width="5" height="2" fill="#000"/>
<rect x="1251" y="499" width="5" height="2" fill="#000"/>
<rect x="1262" y="499" width="5" height="2" fill="#000"/>
<rect x="1273" y="499" width="5" height="2" fill="#000"/>
<rect x="1284" y="499" width="5" height="2" fill="#000"/>
<rect x="1295" y="499" width="5" height="2" fill="#000"/>
</g>
<g id="panel3">
<rect x="116" y="728" width="1189" height="2" fill="#000"/>
<rect x="116" y="963" width="1189" height="2" fill="#000"/>
<rect x="116" y="728" width="1" height="237" fill="#000"/>
<rect x="1303" y="728" width="2" height="237" fill="#000"/>
<rect x="117" y="728" width="24" height="3" fill="#000"/>
<rect x="1279" y="728" width="24" height="3" fill="#000"/>
<rect x="117" y="945" width="24" height="2" fill="#000"/>
<rect x="1279" y="945" width="24" height="2" fill="#000"/>
<rect x="117" y="927" width="24" height="2" fill="#000"/>
<rect x="1279" y="927" width="24" height="2" fill="#000"/>
<rect x="117" y="909" width="24" height="2" fill="#000"/>
<rect x="1279" y="909" width="24" height="2" fill="#000"/>
<rect x="117" y="891" width="24" height="2" fill="#000"/>
<rect x="1279" y="891" width="24" height="2" fill="#000"/>
<rect x="117" y="873" width="24" height="2" fill="#000"/>
<rect x="1279" y="873" width="24" height="2" fill="#000"/>
<rect x="117" y="855" width="24" height="2" fill="#000"/>
<rect x="1279" y="855" width="24" height="2" fill="#000"/>
<rect x="117" y="837" width="24" height="2" fill="#000"/>
<rect x="1279" y="837" width="24" height="2" fill="#000"/>
<rect x="117" y="819" width="24" height="2" fill="#000"/>
<rect x="1279" y="819" width="24" height="2" fill="#000"/>
<rect x="117" y="802" width="24" height="1" fill="#000"/>
<rect x="1279" y="802" width="24" height="1" fill="#000"/>
<rect x="117" y="784" width="24" height="1" fill="#000"/>
<rect x="1279" y="784" width="24" height="1" fill="#000"/>
<rect x="117" y="766" width="24" height="1" fill="#000"/>
<rect x="1279" y="766" width="24" height="1" fill="#000"/>
<rect x="117" y="748" width="24" height="1" fill="#000"/>
<rect x="1279" y="748" width="24" height="1" fill="#000"/>
<rect x="178" y="959" width="2" height="4" fill="#000"/>
<rect x="178" y="730" width="2" height="4" fill="#000"/>
<rect x="241" y="959" width="1" height="4" fill="#000"/>
<rect x="241" y="730" width="1" height="4" fill="#000"/>
<rect x="303" y="959" width="2" height="4" fill="#000"/>
<rect x="303" y="730" width="2" height="4" fill="#000"/>
<rect x="366" y="959" width="1" height="4" fill="#000"/>
<rect x="366" y="730" width="1" height="4" fill="#000"/>
<rect x="428" y="959" width="2" height="4" fill="#000"/>
<rect x="428" y="730" width="2" height="4" fill="#000"/>
<rect x="491" y="959" width="1" height="4" fill="#000"/>
<rect x="491" y="730" width="1" height="4" fill="#000"/>
<rect x="553" y="959" width="2" height="4" fill="#000"/>
<rect x="553" y="730" width="2" height="4" fill="#000"/>
<rect x="615" y="959" width="2" height="4" fill="#000"/>
<rect x="615" y="730" width="2" height="4" fill="#000"/>
<rect x="678" y="959" width="2" height="4" fill="#000"/>
<rect x="678" y="730" width="2" height="4" fill="#000"/>
<rect x="740" y="959" width="2" height="4" fill="#000"/>
<rect x="740" y="730" width="2" height="4" fill="#000"/>
<rect x="803" y="959" width="2" height="4" fill="#000"/>
<rect x="803" y="730" width="2" height="4" fill="#000"/>
<rect x="865" y="959" width="2" height="4" fill="#000"/>
<rect x="865" y="730" width="2" height="4" fill="#000"/>
<rect x="928" y="959" width="2" height="4" fill="#000"/>
<rect x="928" y="730" width="2" height="4" fill="#000"/>
<rect x="990" y="959" width="2" height="4" fill="#000"/>
<rect x="990" y="730" width="2" height="4" fill="#000"/>
<rect x="1053" y="959" width="2" height="4" fill="#000"/>
<rect x="1053" y="730" width="2" height="4" fill="#000"/>
<rect x="1115" y="959" width="2" height="4" fill="#000"/>
<rect x="1115" y="730" width="2" height="4" fill="#000"/>
<rect x="1178" y="959" width="2" height="4" fill="#000"/>
<rect x="1178" y="730" width="2" height="4" fill="#000"/>
<rect x="1240" y="959" width="2" height="4" fill="#000"/>
<rect x="1240" y="730" width="2" height="4" fill="#000"/>
<rect x="116" y="845" width="5" height="2" fill="#000"/>
<rect x="127" y="845" width="5" height="2" fill="#000"/>
<rect x="138" y="845" width="5" height="2" fill="#000"/>
<rect x="149" y="845" width="5" height="2" fill="#000"/>
<rect x="160" y="845" width="5" height="2" fill="#000"/>
<rect x="171" y="845" width="5" height="2" fill="#000"/>
<rect x="182" y="845" width="5" height="2" fill="#000"/>
<rect x="193" y="845" width="5" height="2" fill="#000"/>
<rect x="204" y="845" width="5" height="2" fill="#000"/>
<rect x="215" y="845" width="5" height="2" fill="#000"/>
<rect x="226" y="845" width="5" height="2" fill="#000"/>
<rect x="237" y="845" width="5" height="2" fill="#000"/>
<rect x="248" y="845" width="5" height="2" fill="#000"/>
<rect x="259" y="845" width="5" height="2" fill="#000"/>
<rect x="270" y="845" width="5" height="2" fill="#000"/>
<rect x="281" y="845" width="5" height="2" fill="#000"/>
<rect x="292" y="845" width="5" height="2" fill="#000"/>
<rect x="303" y="845" width="5" height="2" fill="#000"/>
<rect x="314" y="845" width="5" height="2" fill="#000"/>
<rect x="325" y="845" width="5" height="2" fill="#000"/>
<rect x="336" y="845" width="5" height="2" fill="#000"/>
<rect x="347" y="845" width="5" height="2" fill="#000"/>
<rect x="358" y="845" width="5" height="2" fill="#000"/>
<rect x="369" y="845" width="5" height="2" fill="#000"/>
<rect x="380" y="845" width="5" height="2" fill="#000"/>
<rect x="392" y="845" width="4" height="2" fill="#000"/>
<rect x="403" y="845" width="4" height="2" fill="#000"/>
<rect x="414" y="845" width="4" height="2" fill="#000"/>
<rect x="425" y="845" width="4" height="2" fill="#000"/>
<rect x="436" y="845" width="4" height="2" fill="#000"/>
<rect x="447" y="845" width="4" height="2" fill="#000"/>
<rect x="458" y="845" width="4" height="2" fill="#000"/>
<rect x="469" y="845" width="4" height="2" fill="#000"/>
<rect x="480" y="845" width="4" height="2" fill="#000"/>
<rect x="491" y="845" width="4" height="2" fill="#000"/>
<rect x="502" y="845" width="4" height="2" fill="#000"/>
<rect x="513" y="845" width="4" height="2" fill="#000"/>
<rect x="524" y="845" width="4" height="2" fill="#000"/>
<rect x="535" y="845" width="4" height="2" fill="#000"/>
<rect x="546" y="845" width="4" height="2" fill="#000"/>
<rect x="557" y="845" width="4" height="2" fill="#000"/>
<rect x="568" y="845" width="4" height="2" fill="#000"/>
<rect x="579" y="845" width="4" height="2" fill="#000"/>
<rect x="590" y="845" width="4" height="2" fill="#000"/>
<rect x="601" y="845" width="4" height="2" fill="#000"/>
<rect x="612" y="845" width="4" height="2" fill="#000"/>
<rect x="623" y="845" width="5" height="2" fill="#000"/>
<rect x="634" y="845" width="5" height="2" fill="#000"/>
<rect x="645" y="845" width="5" height="2" fill="#000"/>
<rect x="656" y="845" width="5" height="2" fill="#000"/>
<rect x="667" y="845" width="5" height="2" fill="#000"/>
<rect x="678" y="845" width="5" height="2" fill="#000"/>
<rect x="689" y="845" width="5" height="2" fill="#000"/>
<rect x="700" y="845" width="5" height="2" fill="#000"/>
<rect x="711" y="845" width="5" height="2" fill="#000"/>
<rect x="722" y="845" width="5" height="2" fill="#000"/>
<rect x="733" y="845" width="5" height="2" fill="#000"/>
<rect x="744" y="845" width="5" height="2" fill="#000"/>
<rect x="755" y="845" width="5" height="2" fill="#000"/>
<rect x="766" y="845" width="5" height="2" fill="#000"/>
<rect x="777" y="845" width="5" height="2" fill="#000"/>
<rect x="788" y="845" width="5" height="2" fill="#000"/>
<rect x="799" y="845" width="5" height="2" fill="#000"/>
<rect x="810" y="845" width="5" height="2" fill="#000"/>
<rect x="821" y="845" width="5" height="2" fill="#000"/>
<rect x="832" y="845" width="5" height="2" fill="#000"/>
<rect x="843" y="845" width="5" height="2" fill="#000"/>
<rect x="854" y="845" width="5" height="2" fill="#000"/>
<rect x="865" y="845" width="5" height="2" fill="#000"/>
<rect x="876" y="845" width="5" height="2" fill="#000"/>
<rect x="887" y="845" width="5" height="2" fill="#000"/>
<rect x="898" y="845" width="5" height="2" fill="#000"/>
<rect x="909" y="845" width="5" height="2" fill="#000"/>
<rect x="920" y="845" width="5" height="2" fill="#000"/>
<rect x="931" y="845" width="5" height="2" fill="#000"/>
<rect x="942" y="845" width="5" height="2" fill="#000"/>
<rect x="954" y="845" width="4" height="2" fill="#000"/>
<rect x="965" y="845" width="4" height="2" fill="#000"/>
<rect x="976" y="845" width="4" height="2" fill="#000"/>
<rect x="987" y="845" width="4" height="2" fill="#000"/>
<rect x="998" y="845" width="4" height="2" fill="#000"/>
<rect x="1009" y="845" width="4" height="2" fill="#000"/>
<rect x="1020" y="845" width="4" height="2" fill="#000"/>
<rect x="1031" y="845" width="4" height="2" fill="#000"/>
<rect x="1042" y="845" width="4" height="2" fill="#000"/>
<rect x="1053" y="845" width="4" height="2" fill="#000"/>
<rect x="1064" y="845" width="4" height="2" fill="#000"/>
<rect x="1075" y="845" width="4" height="2" fill="#000"/>
<rect x="1086" y="845" width="4" height="2" fill="#000"/>
<rect x="1097" y="845" width="4" height="2" fill="#000"/>
<rect x="1108" y="845" width="4" height="2" fill="#000"/>
<rect x="1119" y="845" width="4" height="2" fill="#000"/>
<rect x="1130" y="845" width="4" height="2" fill="#000"/>
<rect x="1141" y="845" width="4" height="2" fill="#000"/>
<rect x="1152" y="845" width="4" height="2" fill="#000"/>
<rect x="1163" y="845" width="4" height="2" fill="#000"/>
<rect x="1174" y="845" width="5" height="2" fill="#000"/>
<rect x="1185" y="845" width="5" height="2" fill="#000"/>
<rect x="1196" y="845" width="5" height="2" fill="#000"/>
<rect x="1207" y="845" width="5" height="2" fill="#000"/>
<rect x="1218" y="845" width="5" height="2" fill="#000"/>
<rect x="1229" y="845" width="5" height="2" fill="#000"/>
<rect x="1240" y="845" width="5" height="2" fill="#000"/>
<rect x="1251" y="845" width="5" height="2" fill="#000"/>
<rect x="1262" y="845" width="5" height="2" fill="#000"/>
<rect x="1273" y="845" width="5" height="2" fill="#000"/>
<rect x="1284" y="845" width="5" height="2" fill="#000"/>
<rect x="1295" y="845" width="5" height="2" fill="#000"/>
</g>
<g id="panel4">
<rect x="116" y="1074" width="1189" height="2" fill="#000"/>
<rect x="116" y="1310" width="1189" height="1" fill="#000"/>
<rect x="116" y="1074" width="1" height="237" fill="#000"/>
<rect x="1303" y="1074" width="2" height="237" fill="#000"/>
<rect x="117" y="1074" width="24" height="4" fill="#000"/>
<rect x="1279" y="1074" width="24" height="4" fill="#000"/>
<rect x="117" y="1292" width="24" height="1" fill="#000"/>
<rect x="1279" y="1292" width="24" height="1" fill="#000"/>
<rect x="117" y="1274" width="24" height="2" fill="#000"/>
<rect x="1279" y="1274" width="24" height="2" fill="#000"/>
<rect x="117" y="1256" width="24" height="2" fill="#000"/>
<rect x="1279" y="1256" width="24" height="2" fill="#000"/>
<rect x="117" y="1238" width="24" height="2" fill="#000"/>
<rect x="1279" y="1238" width="24" height="2" fill="#000"/>
<rect x="117" y="1220" width="24" height="2" fill="#000"/>
<rect x="1279" y="1220" width="24" height="2" fill="#000"/>
<rect x="117" y="1202" width="24" height="2" fill="#000"/>
<rect x="1279" y="1202" width="24" height="2" fill="#000"/>
<rect x="117" y="1184" width="24" height="2" fill="#000"/>
<rect x="1279" y="1184" width="24" height="2" fill="#000"/>
<rect x="117" y="1166" width="24" height="2" fill="#000"/>
<rect x="1279" y="1166" width="24" height="2" fill="#000"/>
<rect x="117" y="1148" width="24" height="2" fill="#000"/>
<rect x="1279" y="1148" width="24" height="2" fill="#000"/>
<rect x="117" y="1130" width="24" height="2" fill="#000"/>
<rect x="1279" y="1130" width="24" height="2" fill="#000"/>
<rect x="117" y="1112" width="24" height="2" fill="#000"/>
<rect x="1279" y="1112" width="24" height="2" fill="#000"/>
<rect x="117" y="1094" width="24" height="2" fill="#000"/>
<rect x="1279" y="1094" width="24" height="2" fill="#000"/>
<rect x="178" y="1306" width="2" height="4" fill="#000"/>
<rect x="178" y="1076" width="2" height="4" fill="#000"/>
<rect x="241" y="1306" width="1" height="4" fill="#000"/>
<rect x="241" y="1076" width="1" height="4" fill="#000"/>
<rect x="303" y="1306" width="2" height="4" fill="#000"/>
<rect x="303" y="1076" width="2" height="4" fill="#000"/>
<rect x="366" y="1306" width="1" height="4" fill="#000"/>
<rect x="366" y="1076" width="1" height="4" fill="#000"/>
<rect x="428" y="1306" width="2" height="4" fill="#000"/>
<rect x="428" y="1076" width="2" height="4" fill="#000"/>
<rect x="491" y="1306" width="1" height="4" fill="#000"/>
<rect x="491" y="1076" width="1" height="4" fill="#000"/>
<rect x="553" y="1306" width="2" height="4" fill="#000"/>
<rect x="553" y="1076" width="2" height="4" fill="#000"/>
<rect x="615" y="1306" width="2" height="4" fill="#000"/>
<rect x="615" y="1076" width="2" height="4" fill="#000"/>
<rect x="678" y="1306" width="2" height="4" fill="#000"/>
<rect x="678" y="1076" width="2" height="4" fill="#000"/>
<rect x="740" y="1306" width="2" height="4" fill="#000"/>
<rect x="740" y="1076" width="2" height="4" fill="#000"/>
<rect x="803" y="1306" width="2" height="4" fill="#000"/>
<rect x="803" y="1076" width="2" height="4" fill="#000"/>
<rect x="865" y="1306" width="2" height="4" fill="#000"/>
<rect x="865" y="1076" width="2" height="4" fill="#000"/>
<rect x="928" y="1306" width="2" height="4" fill="#000"/>
<rect x="928" y="1076" width="2" height="4" fill="#000"/>
<rect x="990" y="1306" width="2" height="4" fill="#000"/>
<rect x="990" y="1076" width="2" height="4" fill="#000"/>
<rect x="1053" y="1306" width="2" height="4" fill="#000"/>
<rect x="1053" y="1076" width="2" height="4" fill="#000"/>
<rect x="1115" y="1306" width="2" height="4" fill="#000"/>
<rect x="1115" y="1076" width="2" height="4" fill="#000"/>
<rect x="1178" y="1306" width="2" height="4" fill="#000"/>
<rect x="1178" y="1076" width="2" height="4" fill="#000"/>
<rect x="1240" y="1306" width="2" height="4" fill="#000"/>
<rect x="1240" y="1076" width="2" height="4" fill="#000"/>
<rect x="116" y="1192" width="5" height="2" fill="#000"/>
<rect x="127" y="1192" width="5" height="2" fill="#000"/>
<rect x="138" y="1192" width="5" height="2" fill="#000"/>
<rect x="149" y="1192" width="5" height="2" fill="#000"/>
<rect x="160" y="1192" width="5" height="2" fill="#000"/>
<rect x="171" y="1192" width="5" height="2" fill="#000"/>
<rect x="182" y="1192" width="5" height="2" fill="#000"/>
<rect x="193" y="1192" width="5" height="2" fill="#000"/>
<rect x="204" y="1192" width="5" height="2" fill="#000"/>
<rect x="215" y="1192" width="5" height="2" fill="#000"/>
<rect x="226" y="1192" width="5" height="2" fill="#000"/>
<rect x="237" y="1192" width="5" height="2" fill="#000"/>
<rect x="248" y="1192" width="5" height="2" fill="#000"/>
<rect x="259" y="1192" width="5" height="2" fill="#000"/>
<rect x="270" y="1192" width="5" height="2" fill="#000"/>
<rect x="281" y="1192" width="5" height="2" fill="#000"/>
<rect x="292" y="1192" width="5" height="2" fill="#000"/>
<rect x="303" y="1192" width="5" height="2" fill="#000"/>
<rect x="314" y="1192" width="5" height="2" fill="#000"/>
<rect x="325" y="1192" width="5" height="2" fill="#000"/>
<rect x="336" y="1192" width="5" height="2" fill="#000"/>
<rect x="347" y="1192" width="5" height="2" fill="#000"/>
<rect x="358" y="1192" width="5" height="2" fill="#000"/>
<rect x="369" y="1192" width="5" height="2" fill="#000"/>
<rect x="380" y="1192" width="5" height="2" fill="#000"/>
<rect x="392" y="1192" width="4" height="2" fill="#000"/>
<rect x="403" y="1192" width="4" height="2" fill="#000"/>
<rect x="414" y="1192" width="4" height="2" fill="#000"/>
<rect x="425" y="1192" width="4" height="2" fill="#000"/>
<rect x="436" y="1192" width="4" height="2" fill="#000"/>
<rect x="447" y="1192" width="4" height="2" fill="#000"/>
<rect x="458" y="1192" width="4" height="2" fill="#000"/>
<rect x="469" y="1192" width="4" height="2" fill="#000"/>
<rect x="480" y="1192" width="4" height="2" fill="#000"/>
<rect x="491" y="1192" width="4" height="2" fill="#000"/>
<rect x="502" y="1192" width="4" height="2" fill="#000"/>
<rect x="513" y="1192" width="4" height="2" fill="#000"/>
<rect x="524" y="1192" width="4" height="2" fill="#000"/>
<rect x="535" y="1192" width="4" height="2" fill="#000"/>
<rect x="546" y="1192" width="4" height="2" fill="#000"/>
<rect x="557" y="1192" width="4" height="2" fill="#000"/>
<rect x="568" y="1192" width="4" height="2" fill="#000"/>
<rect x="579" y="1192" width="4" height="2" fill="#000"/>
<rect x="590" y="1192" width="4" height="2" fill="#000"/>
<rect x="601" y="1192" width="4" height="2" fill="#000"/>
<rect x="612" y="1192" width="4" height="2" fill="#000"/>
<rect x="623" y="1192" width="5" height="2" fill="#000"/>
<rect x="634" y="1192" width="5" height="2" fill="#000"/>
<rect x="645" y="1192" width="5" height="2" fill="#000"/>
<rect x="656" y="1192" width="5" height="2" fill="#000"/>
<rect x="667" y="1192" width="5" height="2" fill="#000"/>
<rect x="678" y="1192" width="5" height="2" fill="#000"/>
<rect x="689" y="1192" width="5" height="2" fill="#000"/>
<rect x="700" y="1192" width="5" height="2" fill="#000"/>
<rect x="711" y="1192" width="5" height="2" fill="#000"/>
<rect x="722" y="1192" width="5" height="2" fill="#000"/>
<rect x="733" y="1192" width="5" height="2" fill="#000"/>
<rect x="744" y="1192" width="5" height="2" fill="#000"/>
<rect x="755" y="1192" width="5" height="2" fill="#000"/>
<rect x="766" y="1192" width="5" height="2" fill="#000"/>
<rect x="777" y="1192" width="5" height="2" fill="#000"/>
<rect x="788" y="1192" width="5" height="2" fill="#000"/>
<rect x="799" y="1192" width="5" height="2" fill="#000"/>
<rect x="810" y="1192" width="5" height="2" fill="#000"/>
<rect x="821" y="1192" width="5" height="2" fill="#000"/>
<rect x="832" y="1192" width="5" height="2" fill="#000"/>
<rect x="843" y="1192" width="5" height="2" fill="#000"/>
<rect x="854" y="1192" width="5" height="2" fill="#000"/>
<rect x="865" y="1192" width="5" height="2" fill="#000"/>
<rect x="876" y="1192" width="5" height="2" fill="#000"/>
<rect x="887" y="1192" width="5" height="2" fill="#000"/>
<rect x="898" y="1192" width="5" height="2" fill="#000"/>
<rect x="909" y="1192" width="5" height="2" fill="#000"/>
<rect x="920" y="1192" width="5" height="2" fill="#000"/>
<rect x="931" y="1192" width="5" height="2" fill="#000"/>
<rect x="942" y="1192" width="5" height="2" fill="#000"/>
<rect x="954" y="1192" width="4" height="2" fill="#000"/>
<rect x="965" y="1192" width="4" height="2" fill="#000"/>
<rect x="976" y="1192" width="4" height="2" fill="#000"/>
<rect x="987" y="1192" width="4" height="2" fill="#000"/>
<rect x="998" y="1192" width="4" height="2" fill="#000"/>
<rect x="1009" y="1192" width="4" height="2" fill="#000"/>
<rect x="1020" y="1192" width="4" height="2" fill="#000"/>
<rect x="1031" y="1192" width="4" height="2" fill="#000"/>
<rect x="1042" y="1192" width="4" height="2" fill="#000"/>
<rect x="1053" y="1192" width="4" height="2" fill="#000"/>
<rect x="1064" y="1192" width="4" height="2" fill="#000"/>
<rect x="1075" y="1192" width="4" height="2" fill="#000"/>
<rect x="1086" y="1192" width="4" height="2" fill="#000"/>
<rect x="1097" y="1192" width="4" height="2" fill="#000"/>
<rect x="1108" y="1192" width="4" height="2" fill="#000"/>
<rect x="1119" y="1192" width="4" height="2" fill="#000"/>
<rect x="1130" y="1192" width="4" height="2" fill="#000"/>
<rect x="1141" y="1192" width="4" height="2" fill="#000"/>
<rect x="1152" y="1192" width="4" height="2" fill="#000"/>
<rect x="1163" y="1192" width="4" height="2" fill="#000"/>
<rect x="1174" y="1192" width="5" height="2" fill="#000"/>
<rect x="1185" y="1192" width="5" height="2" fill="#000"/>
<rect x="1196" y="1192" width="5" height="2" fill="#000"/>
<rect x="1207" y="1192" width="5" height="2" fill="#000"/>
<rect x="1218" y="1192" width="5" height="2" fill="#000"/>
<rect x="1229" y="1192" width="5" height="2" fill="#000"/>
<rect x="1240" y="1192" width="5" height="2" fill="#000"/>
<rect x="1251" y="1192" width="5" height="2" fill="#000"/>
<rect x="1262" y="1192" width="5" height="2" fill="#000"/>
<rect x="1273" y="1192" width="5" height="2" fill="#000"/>
<rect x="1284" y="1192" width="5" height="2" fill="#000"/>
<rect x="1295" y="1192" width="5" height="2" fill="#000"/>
</g>
<g id="panel5">
<rect x="116" y="1421" width="1189" height="1" fill="#000"/>
<rect x="116" y="1656" width="1189" height="2" fill="#000"/>
<rect x="116" y="1421" width="1" height="237" fill="#000"/>
<rect x="1303" y="1421" width="2" height="237" fill="#000"/>
<rect x="117" y="1423" width="24" height="1" fill="#000"/>
<rect x="1279" y="1423" width="24" height="1" fill="#000"/>
<rect x="117" y="1638" width="24" height="2" fill="#000"/>
<rect x="1279" y="1638" width="24" height="2" fill="#000"/>
<rect x="117" y="1620" width="24" height="2" fill="#000"/>
<rect x="1279" y="1620" width="24" height="2" fill="#000"/>
<rect x="117" y="1602" width="24" height="2" fill="#000"/>
<rect x="1279" y="1602" width="24" height="2" fill="#000"/>
<rect x="117" y="1584" width="24" height="2" fill="#000"/>
<rect x="1279" y="1584" width="24" height="2" fill="#000"/>
<rect x="117" y="1566" width="24" height="2" fill="#000"/>
<rect x="1279" y="1566" width="24" height="2" fill="#000"/>
<rect x="117" y="1548" width="24" height="2" fill="#000"/>
<rect x="1279" y="1548" width="24" height="2" fill="#000"/>
<rect x="117" y="1530" width="24" height="2" fill="#000"/>
<rect x="1279" y="1530" width="24" height="2" fill="#000"/>
<rect x="117" y="1512" width="24" height="2" fill="#000"/>
<rect x="1279" y="1512" width="24" height="2" fill="#000"/>
<rect x="117" y="1494" width="24" height="2" fill="#000"/>
<rect x="1279" y="1494" width="24" height="2" fill="#000"/>
<rect x="117" y="1476" width="24" height="2" fill="#000"/>
<rect x="1279" y="1476" width="24" height="2" fill="#000"/>
<rect x="117" y="1459" width="24" height="1" fill="#000"/>
<rect x="1279" y="1459" width="24" height="1" fill="#000"/>
<rect x="117" y="1441" width="24" height="1" fill="#000"/>
<rect x="1279" y="1441" width="24" height="1" fill="#000"/>
<rect x="178" y="1652" width="2" height="4" fill="#000"/>
<rect x="178" y="1422" width="2" height="4" fill="#000"/>
<rect x="241" y="1652" width="1" height="4" fill="#000"/>
<rect x="241" y="1422" width="1" height="4" fill="#000"/>
<rect x="303" y="1652" width="2" height="4" fill="#000"/>
<rect x="303" y="1422" width="2" height="4" fill="#000"/>
<rect x="366" y="1652" width="1" height="4" fill="#000"/>
<rect x="366" y="1422" width="1" height="4" fill="#000"/>
<rect x="428" y="1652" width="2" height="4" fill="#000"/>
<rect x="428" y="1422" width="2" height="4" fill="#000"/>
<rect x="491" y="1652" width="1" height="4" fill="#000"/>
<rect x="491" y="1422" width="1" height="4" fill="#000"/>
<rect x="553" y="1652" width="2" height="4" fill="#000"/>
<rect x="553" y="1422" width="2" height="4" fill="#000"/>
<rect x="615" y="1652" width="2" height="4" fill="#000"/>
<rect x="615" y="1422" width="2" height="4" fill="#000"/>
<rect x="678" y="1652" width="2" height="4" fill="#000"/>
<rect x="678" y="1422" width="2" height="4" fill="#000"/>
<rect x="740" y="1652" width="2" height="4" fill="#000"/>
<rect x="740" y="1422" width="2" height="4" fill="#000"/>
<rect x="803" y="1652" width="2" height="4" fill="#000"/>
<rect x="803" y="1422" width="2" height="4" fill="#000"/>
<rect x="865" y="1652" width="2" height="4" fill="#000"/>
<rect x="865" y="1422" width="2" height="4" fill="#000"/>
<rect x="928" y="1652" width="2" height="4" fill="#000"/>
<rect x="928" y="1422" width="2" height="4" fill="#000"/>
<rect x="990" y="1652" width="2" height="4" fill="#000"/>
<rect x="990" y="1422" width="2" height="4" fill="#000"/>
<rect x="1053" y="1652" width="2" height="4" fill="#000"/>
<rect x="1053" y="1422" width="2" height="4" fill="#000"/>
<rect x="1115" y="1652" width="2" height="4" fill="#000"/>
<rect x="1115" y="1422" width="2" height="4" fill="#000"/>
<rect x="1178" y="1652" width="2" height="4" fill="#000"/>
<rect x="1178" y="1422" width="2" height="4" fill="#000"/>
<rect x="1240" y="1652" width="2" height="4" fill="#000"/>
<rect x="1240" y="1422" width="2" height="4" fill="#000"/>
<rect x="116" y="1538" width="5" height="2" fill="#000"/>
<rect x="127" y="1538" width="5" height="2" fill="#000"/>
<rect x="138" y="1538" width="5" height="2" fill="#000"/>
<rect x="149" y="1538" width="5" height="2" fill="#000"/>
<rect x="160" y="1538" width="5" height="2" fill="#000"/>
<rect x="171" y="1538" width="5" height="2" fill="#000"/>
<rect x="182" y="1538" width="5" height="2" fill="#000"/>
<rect x="193" y="1538" width="5" height="2" fill="#000"/>
<rect x="204" y="1538" width="5" height="2" fill="#000"/>
<rect x="215" y="1538" width="5" height="2" fill="#000"/>
<rect x="226" y="1538" width="5" height="2" fill="#000"/>
<rect x="237" y="1538" width="5" height="2" fill="#000"/>
<rect x="248" y="1538" width="5" height="2" fill="#000"/>
<rect x="259" y="1538" width="5" height="2" fill="#000"/>
<rect x="270" y="1538" width="5" height="2" fill="#000"/>
<rect x="281" y="1538" width="5" height="2" fill="#000"/>
<rect x="292" y="1538" width="5" height="2" fill="#000"/>
<rect x="303" y="1538" width="5" height="2" fill="#000"/>
<rect x="314" y="1538" width="5" height="2" fill="#000"/>
<rect x="325" y="1538" width="5" height="2" fill="#000"/>
<rect x="336" y="1538" width="5" height="2" fill="#000"/>
<rect x="347" y="1538" width="5" height="2" fill="#000"/>
<rect x="358" y="1538" width="5" height="2" fill="#000"/>
<rect x="369" y="1538" width="5" height="2" fill="#000"/>
<rect x="380" y="1538" width="5" height="2" fill="#000"/>
<rect x="392" y="1538" width="4" height="2" fill="#000"/>
<rect x="403" y="1538" width="4" height="2" fill="#000"/>
<rect x="414" y="1538" width="4" height="2" fill="#000"/>
<rect x="425" y="1538" width="4" height="2" fill="#000"/>
<rect x="436" y="1538" width="4" height="2" fill="#000"/>
<rect x="447" y="1538" width="4" height="2" fill="#000"/>
<rect x="458" y="1538" width="4" height="2" fill="#000"/>
<rect x="469" y="1538" width="4" height="2" fill="#000"/>
<rect x="480" y="1538" width="4" height="2" fill="#000"/>
<rect x="491" y="1538" width="4" height="2" fill="#000"/>
<rect x="502" y="1538" width="4" height="2" fill="#000"/>
<rect x="513" y="1538" width="4" height="2" fill="#000"/>
<rect x="524" y="1538" width="4" height="2" fill="#000"/>
<rect x="535" y="1538" width="4" height="2" fill="#000"/>
<rect x="546" y="1538" width="4" height="2" fill="#000"/>
<rect x="557" y="1538" width="4" height="2" fill="#000"/>
<rect x="568" y="1538" width="4" height="2" fill="#000"/>
<rect x="579" y="1538" width="4" height="2" fill="#000"/>
<rect x="590" y="1538" width="4" height="2" fill="#000"/>
<rect x="601" y="1538" width="4" height="2" fill="#000"/>
<rect x="612" y="1538" width="4" height="2" fill="#000"/>
<rect x="623" y="1538" width="5" height="2" fill="#000"/>
<rect x="634" y="1538" width="5" height="2" fill="#000"/>
<rect x="645" y="1538" width="5" height="2" fill="#000"/>
<rect x="656" y="1538" width="5" height="2" fill="#000"/>
<rect x="667" y="1538" width="5" height="2" fill="#000"/>
<rect x="678" y="1538" width="5" height="2" fill="#000"/>
<rect x="689" y="1538" width="5" height="2" fill="#000"/>
<rect x="700" y="1538" width="5" height="2" fill="#000"/>
<rect x="711" y="1538" width="5" height="2" fill="#000"/>
<rect x="722" y="1538" width="5" height="2" fill="#000"/>
<rect x="733" y="1538" width="5" height="2" fill="#000"/>
<rect x="744" y="1538" width="5" height="2" fill="#000"/>
<rect x="755" y="1538" width="5" height="2" fill="#000"/>
<rect x="766" y="1538" width="5" height="2" fill="#000"/>
<rect x="777" y="1538" width="5" height="2" fill="#000"/>
<rect x="788" y="1538" width="5" height="2" fill="#000"/>
<rect x="799" y="1538" width="5" height="2" fill="#000"/>
<rect x="810" y="1538" width="5" height="2" fill="#000"/>
<rect x="821" y="1538" width="5" height="2" fill="#000"/>
<rect x="832" y="1538" width="5" height="2" fill="#000"/>
<rect x="843" y="1538" width="5" height="2" fill="#000"/>
<rect x="854" y="1538" width="5" height="2" fill="#000"/>
<rect x="865" y="1538" width="5" height="2" fill="#000"/>
<rect x="876" y="1538" width="5" height="2" fill="#000"/>
<rect x="887" y="1538" width="5" height="2" fill="#000"/>
<rect x="898" y="1538" width="5" height="2" fill="#000"/>
<rect x="909" y="1538" width="5" height="2" fill="#000"/>
<rect x="920" y="1538" width="5" height="2" fill="#000"/>
<rect x="931" y="1538" width="5" height="2" fill="#000"/>
<rect x="942" y="1538" width="5" height="2" fill="#000"/>
<rect x="954" y="1538" width="4" height="2" fill="#000"/>
<rect x="965" y="1538" width="4" height="2" fill="#000"/>
<rect x="976" y="1538" width="4" height="2" fill="#000"/>
<rect x="987" y="1538" width="4" height="2" fill="#000"/>
<rect x="998" y="1538" width="4" height="2" fill="#000"/>
<rect x="1009" y="1538" width="4" height="2" fill="#000"/>
<rect x="1020" y="1538" width="4" height="2" fill="#000"/>
<rect x="1031" y="1538" width="4" height="2" fill="#000"/>
<rect x="1042" y="1538" width="4" height="2" fill="#000"/>
<rect x="1053" y="1538" width="4" height="2" fill="#000"/>
<rect x="1064" y="1538" width="4" height="2" fill="#000"/>
<rect x="1075" y="1538" width="4" height="2" fill="#000"/>
<rect x="1086" y="1538" width="4" height="2" fill="#000"/>
<rect x="1097" y="1538" width="4" height="2" fill="#000"/>
<rect x="1108" y="1538" width="4" height="2" fill="#000"/>
<rect x="1119" y="1538" width="4" height="2" fill="#000"/>
<rect x="1130" y="1538" width="4" height="2" fill="#000"/>
<rect x="1141" y="1538" width="4" height="2" fill="#000"/>
<rect x="1152" y="1538" width="4" height="2" fill="#000"/>
<rect x="1163" y="1538" width="4" height="2" fill="#000"/>
<rect x="1174" y="1538" width="5" height="2" fill="#000"/>
<rect x="1185" y="1538" width="5" height="2" fill="#000"/>
<rect x="1196" y="1538" width="5" height="2" fill="#000"/>
<rect x="1207" y="1538" width="5" height="2" fill="#000"/>
<rect x="1218" y="1538" width="5" height="2" fill="#000"/>
<rect x="1229" y="1538" width="5" height="2" fill="#000"/>
<rect x="1240" y="1538" width="5" height="2" fill="#000"/>
<rect x="1251" y="1538" width="5" height="2" fill="#000"/>
<rect x="1262" y="1538" width="5" height="2" fill="#000"/>
<rect x="1273" y="1538" width="5" height="2" fill="#000"/>
<rect x="1284" y="1538" width="5" height="2" fill="#000"/>
<rect x="1295" y="1538" width="5" height="2" fill="#000"/>
</g>
<g font-family='"Liberation Sans", sans-serif' fill="#000" stroke="#000" stroke-width="0.8">
<text x="709.2" y="25.0" font-size="28" text-anchor="middle">427.8 nm (HV = 75)</text>
<text x="1250.8" y="83.0" font-size="44.5" text-anchor="end">427.8 nm</text>
<text x="116.5" y="299.2" font-size="22.5" text-anchor="middle">13</text>
<text x="179.0" y="299.2" font-size="22.5" text-anchor="middle">14</text>
<text x="241.5" y="299.2" font-size="22.5" text-anchor="middle">15</text>
<text x="304.0" y="299.2" font-size="22.5" text-anchor="middle">16</text>
<text x="366.5" y="299.2" font-size="22.5" text-anchor="middle">17</text>
<text x="429.0" y="299.2" font-size="22.5" text-anchor="middle">18</text>
<text x="491.5" y="299.2" font-size="22.5" text-anchor="middle">19</text>
<text x="554.0" y="299.2" font-size="22.5" text-anchor="middle">20</text>
<text x="616.5" y="299.2" font-size="22.5" text-anchor="middle">21</text>
<text x="679.0" y="299.2" font-size="22.5" text-anchor="middle">22</text>
<text x="741.5" y="299.2" font-size="22.5" text-anchor="middle">23</text>
<text x="804.0" y="299.2" font-size="22.5" text-anchor="middle">0</text>
<text x="866.5" y="299.2" font-size="22.5" text-anchor="middle">1</text>
<text x="929.0" y="299.2" font-size="22.5" text-anchor="middle">2</text>
<text x="991.5" y="299.2" font-size="22.5" text-anchor="middle">3</text>
<text x="1054.0" y="299.2" font-size="22.5" text-anchor="middle">4</text>
<text x="1116.5" y="299.2" font-size="22.5" text-anchor="middle">5</text>
<text x="1179.0" y="299.2" font-size="22.5" text-anchor="middle">6</text>
<text x="1241.5" y="299.2" font-size="22.5" text-anchor="middle">7</text>
<text x="1304.0" y="299.2" font-size="22.5" text-anchor="middle">8</text>
<text x="710" y="322.8" font-size="22.5" text-anchor="middle">Time (UT)</text>
<text x="110.8" y="271.6" font-size="22.5" text-anchor="end">0</text>
<text x="110.8" y="243.4" font-size="22.5" text-anchor="end">10000</text>
<text x="110.8" y="207.4" font-size="22.5" text-anchor="end">20000</text>
<text x="110.8" y="171.4" font-size="22.5" text-anchor="end">30000</text>
<text x="110.8" y="135.4" font-size="22.5" text-anchor="end">40000</text>
<text x="110.8" y="99.4" font-size="22.5" text-anchor="end">50000</text>
<text x="110.8" y="63.4" font-size="22.5" text-anchor="end">60000</text>
<text x="110.8" y="49.0" font-size="22.5" text-anchor="end">65535</text>
<text font-size="22.5" text-anchor="middle" transform="translate(31.3,153.4) rotate(-90)">Counts</text>
<text x="709.2" y="371.5" font-size="28" text-anchor="middle">557.7 nm (HV = 75)</text>
<text x="1250.8" y="429.5" font-size="44.5" text-anchor="end">557.7 nm</text>
<text x="116.5" y="645.7" font-size="22.5" text-anchor="middle">13</text>
<text x="179.0" y="645.7" font-size="22.5" text-anchor="middle">14</text>
<text x="241.5" y="645.7" font-size="22.5" text-anchor="middle">15</text>
<text x="304.0" y="645.7" font-size="22.5" text-anchor="middle">16</text>
<text x="366.5" y="645.7" font-size="22.5" text-anchor="middle">17</text>
<text x="429.0" y="645.7" font-size="22.5" text-anchor="middle">18</text>
<text x="491.5" y="645.7" font-size="22.5" text-anchor="middle">19</text>
<text x="554.0" y="645.7" font-size="22.5" text-anchor="middle">20</text>
<text x="616.5" y="645.7" font-size="22.5" text-anchor="middle">21</text>
<text x="679.0" y="645.7" font-size="22.5" text-anchor="middle">22</text>
<text x="741.5" y="645.7" font-size="22.5" text-anchor="middle">23</text>
<text x="804.0" y="645.7" font-size="22.5" text-anchor="middle">0</text>
<text x="866.5" y="645.7" font-size="22.5" text-anchor="middle">1</text>
<text x="929.0" y="645.7" font-size="22.5" text-anchor="middle">2</text>
<text x="991.5" y="645.7" font-size="22.5" text-anchor="middle">3</text>
<text x="1054.0" y="645.7" font-size="22.5" text-anchor="middle">4</text>
<text x="1116.5" y="645.7" font-size="22.5" text-anchor="middle">5</text>
<text x="1179.0" y="645.7" font-size="22.5" text-anchor="middle">6</text>
<text x="1241.5" y="645.7" font-size="22.5" text-anchor="middle">7</text>
<text x="1304.0" y="645.7" font-size="22.5" text-anchor="middle">8</text>
<text x="710" y="669.3" font-size="22.5" text-anchor="middle">Time (UT)</text>
<text x="110.8" y="618.0" font-size="22.5" text-anchor="end">0</text>
<text x="110.8" y="589.8" font-size="22.5" text-anchor="end">10000</text>
<text x="110.8" y="553.8" font-size="22.5" text-anchor="end">20000</text>
<text x="110.8" y="517.8" font-size="22.5" text-anchor="end">30000</text>
<text x="110.8" y="481.8" font-size="22.5" text-anchor="end">40000</text>
<text x="110.8" y="445.8" font-size="22.5" text-anchor="end">50000</text>
<text x="110.8" y="409.8" font-size="22.5" text-anchor="end">60000</text>
<text x="110.8" y="395.4" font-size="22.5" text-anchor="end">65535</text>
<text font-size="22.5" text-anchor="middle" transform="translate(31.3,499.8) rotate(-90)">Counts</text>
<text x="709.2" y="718.0" font-size="28" text-anchor="middle">630.0 nm (HV = 70)</text>
<text x="1250.8" y="776.0" font-size="44.5" text-anchor="end">630.0 nm</text>
<text x="116.5" y="992.2" font-size="22.5" text-anchor="middle">13</text>
<text x="179.0" y="992.2" font-size="22.5" text-anchor="middle">14</text>
<text x="241.5" y="992.2" font-size="22.5" text-anchor="middle">15</text>
<text x="304.0" y="992.2" font-size="22.5" text-anchor="middle">16</text>
<text x="366.5" y="992.2" font-size="22.5" text-anchor="middle">17</text>
<text x="429.0" y="992.2" font-size="22.5" text-anchor="middle">18</text>
<text x="491.5" y="992.2" font-size="22.5" text-anchor="middle">19</text>
<text x="554.0" y="992.2" font-size="22.5" text-anchor="middle">20</text>
<text x="616.5" y="992.2" font-size="22.5" text-anchor="middle">21</text>
<text x="679.0" y="992.2" font-size="22.5" text-anchor="middle">22</text>
<text x="741.5" y="992.2" font-size="22.5" text-anchor="middle">23</text>
<text x="804.0" y="992.2" font-size="22.5" text-anchor="middle">0</text>
<text x="866.5" y="992.2" font-size="22.5" text-anchor="middle">1</text>
<text x="929.0" y="992.2" font-size="22.5" text-anchor="middle">2</text>
<text x="991.5" y="992.2" font-size="22.5" text-anchor="middle">3</text>
<text x="1054.0" y="992.2" font-size="22.5" text-anchor="middle">4</text>
<text x="1116.5" y="992.2" font-size="22.5" text-anchor="middle">5</text>
<text x="1179.0" y="992.2" font-size="22.5" text-anchor="middle">6</text>
<text x="1241.5" y="992.2" font-size="22.5" text-anchor="middle">7</text>
<text x="1304.0" y="992.2" font-size="22.5" text-anchor="middle">8</text>
<text x="710" y="1015.8" font-size="22.5" text-anchor="middle">Time (UT)</text>
<text x="110.8" y="964.4" font-size="22.5" text-anchor="end">0</text>
<text x="110.8" y="936.2" font-size="22.5" text-anchor="end">10000</text>
<text x="110.8" y="900.2" font-size="22.5" text-anchor="end">20000</text>
<text x="110.8" y="864.2" font-size="22.5" text-anchor="end">30000</text>
<text x="110.8" y="828.2" font-size="22.5" text-anchor="end">40000</text>
<text x="110.8" y="792.2" font-size="22.5" text-anchor="end">50000</text>
<text x="110.8" y="756.2" font-size="22.5" text-anchor="end">60000</text>
<text x="110.8" y="741.8" font-size="22.5" text-anchor="end">65535</text>
<text font-size="22.5" text-anchor="middle" transform="translate(31.3,846.2) rotate(-90)">Counts</text>
<text x="709.2" y="1064.5" font-size="28" text-anchor="middle">777.4 nm (HV = 80)</text>
<text x="1250.8" y="1122.5" font-size="44.5" text-anchor="end">777.4 nm</text>
<text x="116.5" y="1338.7" font-size="22.5" text-anchor="middle">13</text>
<text x="179.0" y="1338.7" font-size="22.5" text-anchor="middle">14</text>
<text x="241.5" y="1338.7" font-size="22.5" text-anchor="middle">15</text>
<text x="304.0" y="1338.7" font-size="22.5" text-anchor="middle">16</text>
<text x="366.5" y="1338.7" font-size="22.5" text-anchor="middle">17</text>
<text x="429.0" y="1338.7" font-size="22.5" text-anchor="middle">18</text>
<text x="491.5" y="1338.7" font-size="22.5" text-anchor="middle">19</text>
<text x="554.0" y="1338.7" font-size="22.5" text-anchor="middle">20</text>
<text x="616.5" y="1338.7" font-size="22.5" text-anchor="middle">21</text>
<text x="679.0" y="1338.7" font-size="22.5" text-anchor="middle">22</text>
<text x="741.5" y="1338.7" font-size="22.5" text-anchor="middle">23</text>
<text x="804.0" y="1338.7" font-size="22.5" text-anchor="middle">0</text>
<text x="866.5" y="1338.7" font-size="22.5" text-anchor="middle">1</text>
<text x="929.0" y="1338.7" font-size="22.5" text-anchor="middle">2</text>
<text x="991.5" y="1338.7" font-size="22.5" text-anchor="middle">3</text>
<text x="1054.0" y="1338.7" font-size="22.5" text-anchor="middle">4</text>
<text x="1116.5" y="1338.7" font-size="22.5" text-anchor="middle">5</text>
<text x="1179.0" y="1338.7" font-size="22.5" text-anchor="middle">6</text>
<text x="1241.5" y="1338.7" font-size="22.5" text-anchor="middle">7</text>
<text x="1304.0" y="1338.7" font-size="22.5" text-anchor="middle">8</text>
<text x="710" y="1362.3" font-size="22.5" text-anchor="middle">Time (UT)</text>
<text x="110.8" y="1310.8" font-size="22.5" text-anchor="end">0</text>
<text x="110.8" y="1282.6" font-size="22.5" text-anchor="end">10000</text>
<text x="110.8" y="1246.6" font-size="22.5" text-anchor="end">20000</text>
<text x="110.8" y="1210.6" font-size="22.5" text-anchor="end">30000</text>
<text x="110.8" y="1174.6" font-size="22.5" text-anchor="end">40000</text>
<text x="110.8" y="1138.6" font-size="22.5" text-anchor="end">50000</text>
<text x="110.8" y="1102.6" font-size="22.5" text-anchor="end">60000</text>
<text x="110.8" y="1088.2" font-size="22.5" text-anchor="end">65535</text>
<text font-size="22.5" text-anchor="middle" transform="translate(31.3,1192.6) rotate(-90)">Counts</text>
<text x="709.2" y="1411.0" font-size="28" text-anchor="middle">844.6 nm (HV = 75)</text>
<text x="1250.8" y="1469.0" font-size="44.5" text-anchor="end">844.6 nm</text>
<text x="116.5" y="1685.2" font-size="22.5" text-anchor="middle">13</text>
<text x="179.0" y="1685.2" font-size="22.5" text-anchor="middle">14</text>
<text x="241.5" y="1685.2" font-size="22.5" text-anchor="middle">15</text>
<text x="304.0" y="1685.2" font-size="22.5" text-anchor="middle">16</text>
<text x="366.5" y="1685.2" font-size="22.5" text-anchor="middle">17</text>
<text x="429.0" y="1685.2" font-size="22.5" text-anchor="middle">18</text>
<text x="491.5" y="1685.2" font-size="22.5" text-anchor="middle">19</text>
<text x="554.0" y="1685.2" font-size="22.5" text-anchor="middle">20</text>
<text x="616.5" y="1685.2" font-size="22.5" text-anchor="middle">21</text>
<text x="679.0" y="1685.2" font-size="22.5" text-anchor="middle">22</text>
<text x="741.5" y="1685.2" font-size="22.5" text-anchor="middle">23</text>
<text x="804.0" y="1685.2" font-size="22.5" text-anchor="middle">0</text>
<text x="866.5" y="1685.2" font-size="22.5" text-anchor="middle">1</text>
<text x="929.0" y="1685.2" font-size="22.5" text-anchor="middle">2</text>
<text x="991.5" y="1685.2" font-size="22.5" text-anchor="middle">3</text>
<text x="1054.0" y="1685.2" font-size="22.5" text-anchor="middle">4</text>
<text x="1116.5" y="1685.2" font-size="22.5" text-anchor="middle">5</text>
<text x="1179.0" y="1685.2" font-size="22.5" text-anchor="middle">6</text>
<text x="1241.5" y="1685.2" font-size="22.5" text-anchor="middle">7</text>
<text x="1304.0" y="1685.2" font-size="22.5" text-anchor="middle">8</text>
<text x="710" y="1708.8" font-size="22.5" text-anchor="middle">Time (UT)</text>
<text x="110.8" y="1657.2" font-size="22.5" text-anchor="end">0</text>
<text x="110.8" y="1629.0" font-size="22.5" text-anchor="end">10000</text>
<text x="110.8" y="1593.0" font-size="22.5" text-anchor="end">20000</text>
<text x="110.8" y="1557.0" font-size="22.5" text-anchor="end">30000</text>
<text x="110.8" y="1521.0" font-size="22.5" text-anchor="end">40000</text>
<text x="110.8" y="1485.0" font-size="22.5" text-anchor="end">50000</text>
<text x="110.8" y="1449.0" font-size="22.5" text-anchor="end">60000</text>
<text x="110.8" y="1434.6" font-size="22.5" text-anchor="end">65535</text>
<text font-size="22.5" text-anchor="middle" transform="translate(31.3,1539.0) rotate(-90)">Counts</text>
</g>
</svg>
</body>
</html>
